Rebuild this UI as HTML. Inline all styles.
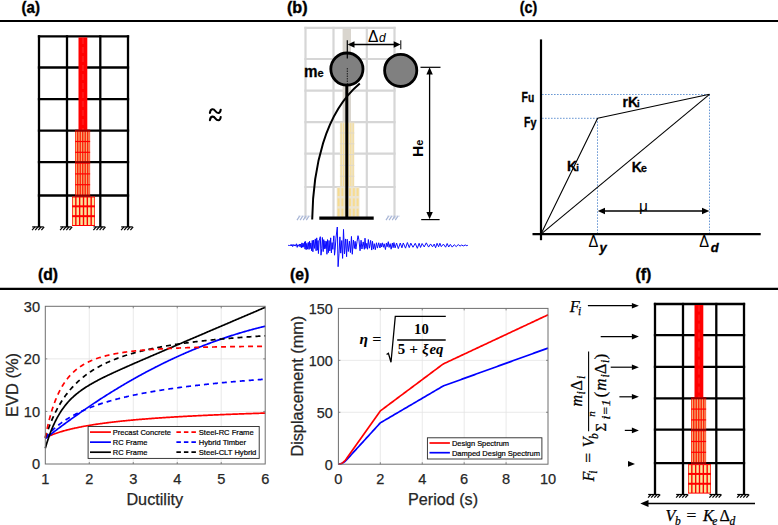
<!DOCTYPE html>
<html><head><meta charset="utf-8"><style>
html,body{margin:0;padding:0;background:#fff;width:778px;height:525px;overflow:hidden;}
svg{display:block;}
</style></head><body>
<svg width="778" height="525" viewBox="0 0 778 525">
<rect width="778" height="525" fill="#fff"/>
<line x1="0.00" y1="21.00" x2="778.00" y2="21.00" stroke="#000" stroke-width="2.2" />
<line x1="0.00" y1="288.90" x2="778.00" y2="288.90" stroke="#000" stroke-width="2.2" />
<text x="21.6" y="12.8" font-family='"Liberation Sans", sans-serif' font-size="16.5" font-weight="bold" font-style="normal" text-anchor="start" fill="#000" textLength="18.4" lengthAdjust="spacingAndGlyphs" stroke="#000" stroke-width="0.4">(a)</text>
<text x="287" y="12.8" font-family='"Liberation Sans", sans-serif' font-size="16.5" font-weight="bold" font-style="normal" text-anchor="start" fill="#000" textLength="20.6" lengthAdjust="spacingAndGlyphs" stroke="#000" stroke-width="0.4">(b)</text>
<text x="519.8" y="12.8" font-family='"Liberation Sans", sans-serif' font-size="16.5" font-weight="bold" font-style="normal" text-anchor="start" fill="#000" textLength="17.4" lengthAdjust="spacingAndGlyphs" stroke="#000" stroke-width="0.4">(c)</text>
<text x="38.1" y="280.4" font-family='"Liberation Sans", sans-serif' font-size="16.5" font-weight="bold" font-style="normal" text-anchor="start" fill="#000" textLength="20.0" lengthAdjust="spacingAndGlyphs" stroke="#000" stroke-width="0.4">(d)</text>
<text x="290.0" y="280.4" font-family='"Liberation Sans", sans-serif' font-size="16.5" font-weight="bold" font-style="normal" text-anchor="start" fill="#000" textLength="19.2" lengthAdjust="spacingAndGlyphs" stroke="#000" stroke-width="0.4">(e)</text>
<text x="635.4" y="280.4" font-family='"Liberation Sans", sans-serif' font-size="16.5" font-weight="bold" font-style="normal" text-anchor="start" fill="#000" textLength="16.0" lengthAdjust="spacingAndGlyphs" stroke="#000" stroke-width="0.4">(f)</text>
<g transform="translate(0,0)">
<line x1="39.0" y1="36.4" x2="39.0" y2="226.0" stroke="#000" stroke-width="2.3" stroke-linecap="square"/>
<line x1="67.0" y1="36.4" x2="67.0" y2="226.0" stroke="#000" stroke-width="2.3" stroke-linecap="square"/>
<line x1="100.3" y1="36.4" x2="100.3" y2="226.0" stroke="#000" stroke-width="2.3" stroke-linecap="square"/>
<line x1="128.0" y1="36.4" x2="128.0" y2="226.0" stroke="#000" stroke-width="2.3" stroke-linecap="square"/>
<line x1="39.0" y1="36.4" x2="128.0" y2="36.4" stroke="#000" stroke-width="2.3" stroke-linecap="square"/>
<line x1="39.0" y1="67.5" x2="128.0" y2="67.5" stroke="#000" stroke-width="2.3" stroke-linecap="square"/>
<line x1="39.0" y1="99.2" x2="128.0" y2="99.2" stroke="#000" stroke-width="2.3" stroke-linecap="square"/>
<line x1="39.0" y1="130.7" x2="128.0" y2="130.7" stroke="#000" stroke-width="2.3" stroke-linecap="square"/>
<line x1="39.0" y1="162.1" x2="128.0" y2="162.1" stroke="#000" stroke-width="2.3" stroke-linecap="square"/>
<line x1="39.0" y1="195.5" x2="128.0" y2="195.5" stroke="#000" stroke-width="2.3" stroke-linecap="square"/>
<rect x="78.5" y="37.4" width="8.8" height="93.29999999999998" fill="#ff0000"/>
<line x1="82.4" y1="38" x2="82.4" y2="130.7" stroke="#ff5050" stroke-width="0.3" stroke-dasharray="6 3"/>
<line x1="83.4" y1="38" x2="83.4" y2="130.7" stroke="#ff5050" stroke-width="0.3" stroke-dasharray="6 3"/>
<rect x="75.1" y="130.7" width="15.0" height="64.80000000000001" fill="#ff1a00"/>
<rect x="75.85" y="130.7" width="1.25" height="64.80000000000001" fill="#f5aa74"/>
<rect x="78.35" y="130.7" width="1.25" height="64.80000000000001" fill="#f5aa74"/>
<rect x="80.85" y="130.7" width="1.25" height="64.80000000000001" fill="#f5aa74"/>
<rect x="83.35" y="130.7" width="1.25" height="64.80000000000001" fill="#f5aa74"/>
<rect x="85.85" y="130.7" width="1.25" height="64.80000000000001" fill="#f5aa74"/>
<rect x="88.35" y="130.7" width="1.25" height="64.80000000000001" fill="#f5aa74"/>
<rect x="75.1" y="130.10" width="15.0" height="1.2" fill="#ff0000"/>
<rect x="75.1" y="140.90" width="15.0" height="1.2" fill="#ff0000"/>
<rect x="75.1" y="151.70" width="15.0" height="1.2" fill="#ff0000"/>
<rect x="75.1" y="162.50" width="15.0" height="1.2" fill="#ff0000"/>
<rect x="75.1" y="173.30" width="15.0" height="1.2" fill="#ff0000"/>
<rect x="75.1" y="184.10" width="15.0" height="1.2" fill="#ff0000"/>
<rect x="75.1" y="194.90" width="15.0" height="1.2" fill="#ff0000"/>
<rect x="72.0" y="196.5" width="23.0" height="29.5" fill="#ff0000"/>
<rect x="72.70" y="197.50" width="2.43" height="7.83" fill="#fbe39a"/>
<rect x="72.70" y="207.33" width="2.43" height="7.83" fill="#fbe39a"/>
<rect x="72.70" y="217.17" width="2.43" height="7.83" fill="#fbe39a"/>
<rect x="76.53" y="197.50" width="2.43" height="7.83" fill="#fbe39a"/>
<rect x="76.53" y="207.33" width="2.43" height="7.83" fill="#fbe39a"/>
<rect x="76.53" y="217.17" width="2.43" height="7.83" fill="#fbe39a"/>
<rect x="80.37" y="197.50" width="2.43" height="7.83" fill="#fbe39a"/>
<rect x="80.37" y="207.33" width="2.43" height="7.83" fill="#fbe39a"/>
<rect x="80.37" y="217.17" width="2.43" height="7.83" fill="#fbe39a"/>
<rect x="84.20" y="197.50" width="2.43" height="7.83" fill="#fbe39a"/>
<rect x="84.20" y="207.33" width="2.43" height="7.83" fill="#fbe39a"/>
<rect x="84.20" y="217.17" width="2.43" height="7.83" fill="#fbe39a"/>
<rect x="88.03" y="197.50" width="2.43" height="7.83" fill="#fbe39a"/>
<rect x="88.03" y="207.33" width="2.43" height="7.83" fill="#fbe39a"/>
<rect x="88.03" y="217.17" width="2.43" height="7.83" fill="#fbe39a"/>
<rect x="91.87" y="197.50" width="2.43" height="7.83" fill="#fbe39a"/>
<rect x="91.87" y="207.33" width="2.43" height="7.83" fill="#fbe39a"/>
<rect x="91.87" y="217.17" width="2.43" height="7.83" fill="#fbe39a"/>
<line x1="75.1" y1="130.7" x2="90.1" y2="130.7" stroke="#900000" stroke-width="2.0"/>
<line x1="75.1" y1="162.1" x2="90.1" y2="162.1" stroke="#900000" stroke-width="2.0"/>
<line x1="75.1" y1="195.5" x2="90.1" y2="195.5" stroke="#900000" stroke-width="2.0"/>
<line x1="32.2" y1="226.9" x2="43.6" y2="226.9" stroke="#000" stroke-width="1.2"/>
<line x1="34.90" y1="226.9" x2="32.10" y2="230.1" stroke="#000" stroke-width="1.2"/>
<line x1="38.00" y1="226.9" x2="35.20" y2="230.1" stroke="#000" stroke-width="1.2"/>
<line x1="41.10" y1="226.9" x2="38.30" y2="230.1" stroke="#000" stroke-width="1.2"/>
<line x1="44.20" y1="226.9" x2="41.40" y2="230.1" stroke="#000" stroke-width="1.2"/>
<line x1="60.2" y1="226.9" x2="71.6" y2="226.9" stroke="#000" stroke-width="1.2"/>
<line x1="62.90" y1="226.9" x2="60.10" y2="230.1" stroke="#000" stroke-width="1.2"/>
<line x1="66.00" y1="226.9" x2="63.20" y2="230.1" stroke="#000" stroke-width="1.2"/>
<line x1="69.10" y1="226.9" x2="66.30" y2="230.1" stroke="#000" stroke-width="1.2"/>
<line x1="72.20" y1="226.9" x2="69.40" y2="230.1" stroke="#000" stroke-width="1.2"/>
<line x1="93.5" y1="226.9" x2="104.89999999999999" y2="226.9" stroke="#000" stroke-width="1.2"/>
<line x1="96.20" y1="226.9" x2="93.40" y2="230.1" stroke="#000" stroke-width="1.2"/>
<line x1="99.30" y1="226.9" x2="96.50" y2="230.1" stroke="#000" stroke-width="1.2"/>
<line x1="102.40" y1="226.9" x2="99.60" y2="230.1" stroke="#000" stroke-width="1.2"/>
<line x1="105.50" y1="226.9" x2="102.70" y2="230.1" stroke="#000" stroke-width="1.2"/>
<line x1="121.2" y1="226.9" x2="132.6" y2="226.9" stroke="#000" stroke-width="1.2"/>
<line x1="123.90" y1="226.9" x2="121.10" y2="230.1" stroke="#000" stroke-width="1.2"/>
<line x1="127.00" y1="226.9" x2="124.20" y2="230.1" stroke="#000" stroke-width="1.2"/>
<line x1="130.10" y1="226.9" x2="127.30" y2="230.1" stroke="#000" stroke-width="1.2"/>
<line x1="133.20" y1="226.9" x2="130.40" y2="230.1" stroke="#000" stroke-width="1.2"/>
</g>
<g transform="translate(616,267.6)">
<line x1="39.0" y1="36.4" x2="39.0" y2="226.0" stroke="#000" stroke-width="2.3" stroke-linecap="square"/>
<line x1="67.0" y1="36.4" x2="67.0" y2="226.0" stroke="#000" stroke-width="2.3" stroke-linecap="square"/>
<line x1="100.3" y1="36.4" x2="100.3" y2="226.0" stroke="#000" stroke-width="2.3" stroke-linecap="square"/>
<line x1="128.0" y1="36.4" x2="128.0" y2="226.0" stroke="#000" stroke-width="2.3" stroke-linecap="square"/>
<line x1="39.0" y1="36.4" x2="128.0" y2="36.4" stroke="#000" stroke-width="2.3" stroke-linecap="square"/>
<line x1="39.0" y1="67.5" x2="128.0" y2="67.5" stroke="#000" stroke-width="2.3" stroke-linecap="square"/>
<line x1="39.0" y1="99.2" x2="128.0" y2="99.2" stroke="#000" stroke-width="2.3" stroke-linecap="square"/>
<line x1="39.0" y1="130.7" x2="128.0" y2="130.7" stroke="#000" stroke-width="2.3" stroke-linecap="square"/>
<line x1="39.0" y1="162.1" x2="128.0" y2="162.1" stroke="#000" stroke-width="2.3" stroke-linecap="square"/>
<line x1="39.0" y1="195.5" x2="128.0" y2="195.5" stroke="#000" stroke-width="2.3" stroke-linecap="square"/>
<rect x="78.5" y="37.4" width="8.8" height="93.29999999999998" fill="#ff0000"/>
<line x1="82.4" y1="38" x2="82.4" y2="130.7" stroke="#ff5050" stroke-width="0.3" stroke-dasharray="6 3"/>
<line x1="83.4" y1="38" x2="83.4" y2="130.7" stroke="#ff5050" stroke-width="0.3" stroke-dasharray="6 3"/>
<rect x="75.1" y="130.7" width="15.0" height="64.80000000000001" fill="#ff1a00"/>
<rect x="75.85" y="130.7" width="1.25" height="64.80000000000001" fill="#f5aa74"/>
<rect x="78.35" y="130.7" width="1.25" height="64.80000000000001" fill="#f5aa74"/>
<rect x="80.85" y="130.7" width="1.25" height="64.80000000000001" fill="#f5aa74"/>
<rect x="83.35" y="130.7" width="1.25" height="64.80000000000001" fill="#f5aa74"/>
<rect x="85.85" y="130.7" width="1.25" height="64.80000000000001" fill="#f5aa74"/>
<rect x="88.35" y="130.7" width="1.25" height="64.80000000000001" fill="#f5aa74"/>
<rect x="75.1" y="130.10" width="15.0" height="1.2" fill="#ff0000"/>
<rect x="75.1" y="140.90" width="15.0" height="1.2" fill="#ff0000"/>
<rect x="75.1" y="151.70" width="15.0" height="1.2" fill="#ff0000"/>
<rect x="75.1" y="162.50" width="15.0" height="1.2" fill="#ff0000"/>
<rect x="75.1" y="173.30" width="15.0" height="1.2" fill="#ff0000"/>
<rect x="75.1" y="184.10" width="15.0" height="1.2" fill="#ff0000"/>
<rect x="75.1" y="194.90" width="15.0" height="1.2" fill="#ff0000"/>
<rect x="72.0" y="196.5" width="23.0" height="29.5" fill="#ff0000"/>
<rect x="72.70" y="197.50" width="2.43" height="7.83" fill="#fbe39a"/>
<rect x="72.70" y="207.33" width="2.43" height="7.83" fill="#fbe39a"/>
<rect x="72.70" y="217.17" width="2.43" height="7.83" fill="#fbe39a"/>
<rect x="76.53" y="197.50" width="2.43" height="7.83" fill="#fbe39a"/>
<rect x="76.53" y="207.33" width="2.43" height="7.83" fill="#fbe39a"/>
<rect x="76.53" y="217.17" width="2.43" height="7.83" fill="#fbe39a"/>
<rect x="80.37" y="197.50" width="2.43" height="7.83" fill="#fbe39a"/>
<rect x="80.37" y="207.33" width="2.43" height="7.83" fill="#fbe39a"/>
<rect x="80.37" y="217.17" width="2.43" height="7.83" fill="#fbe39a"/>
<rect x="84.20" y="197.50" width="2.43" height="7.83" fill="#fbe39a"/>
<rect x="84.20" y="207.33" width="2.43" height="7.83" fill="#fbe39a"/>
<rect x="84.20" y="217.17" width="2.43" height="7.83" fill="#fbe39a"/>
<rect x="88.03" y="197.50" width="2.43" height="7.83" fill="#fbe39a"/>
<rect x="88.03" y="207.33" width="2.43" height="7.83" fill="#fbe39a"/>
<rect x="88.03" y="217.17" width="2.43" height="7.83" fill="#fbe39a"/>
<rect x="91.87" y="197.50" width="2.43" height="7.83" fill="#fbe39a"/>
<rect x="91.87" y="207.33" width="2.43" height="7.83" fill="#fbe39a"/>
<rect x="91.87" y="217.17" width="2.43" height="7.83" fill="#fbe39a"/>
<line x1="75.1" y1="130.7" x2="90.1" y2="130.7" stroke="#900000" stroke-width="2.0"/>
<line x1="75.1" y1="162.1" x2="90.1" y2="162.1" stroke="#900000" stroke-width="2.0"/>
<line x1="75.1" y1="195.5" x2="90.1" y2="195.5" stroke="#900000" stroke-width="2.0"/>
<line x1="32.2" y1="226.9" x2="43.6" y2="226.9" stroke="#000" stroke-width="1.2"/>
<line x1="34.90" y1="226.9" x2="32.10" y2="230.1" stroke="#000" stroke-width="1.2"/>
<line x1="38.00" y1="226.9" x2="35.20" y2="230.1" stroke="#000" stroke-width="1.2"/>
<line x1="41.10" y1="226.9" x2="38.30" y2="230.1" stroke="#000" stroke-width="1.2"/>
<line x1="44.20" y1="226.9" x2="41.40" y2="230.1" stroke="#000" stroke-width="1.2"/>
<line x1="60.2" y1="226.9" x2="71.6" y2="226.9" stroke="#000" stroke-width="1.2"/>
<line x1="62.90" y1="226.9" x2="60.10" y2="230.1" stroke="#000" stroke-width="1.2"/>
<line x1="66.00" y1="226.9" x2="63.20" y2="230.1" stroke="#000" stroke-width="1.2"/>
<line x1="69.10" y1="226.9" x2="66.30" y2="230.1" stroke="#000" stroke-width="1.2"/>
<line x1="72.20" y1="226.9" x2="69.40" y2="230.1" stroke="#000" stroke-width="1.2"/>
<line x1="93.5" y1="226.9" x2="104.89999999999999" y2="226.9" stroke="#000" stroke-width="1.2"/>
<line x1="96.20" y1="226.9" x2="93.40" y2="230.1" stroke="#000" stroke-width="1.2"/>
<line x1="99.30" y1="226.9" x2="96.50" y2="230.1" stroke="#000" stroke-width="1.2"/>
<line x1="102.40" y1="226.9" x2="99.60" y2="230.1" stroke="#000" stroke-width="1.2"/>
<line x1="105.50" y1="226.9" x2="102.70" y2="230.1" stroke="#000" stroke-width="1.2"/>
<line x1="121.2" y1="226.9" x2="132.6" y2="226.9" stroke="#000" stroke-width="1.2"/>
<line x1="123.90" y1="226.9" x2="121.10" y2="230.1" stroke="#000" stroke-width="1.2"/>
<line x1="127.00" y1="226.9" x2="124.20" y2="230.1" stroke="#000" stroke-width="1.2"/>
<line x1="130.10" y1="226.9" x2="127.30" y2="230.1" stroke="#000" stroke-width="1.2"/>
<line x1="133.20" y1="226.9" x2="130.40" y2="230.1" stroke="#000" stroke-width="1.2"/>
</g>
<path d="M 209.9 112.9 C 210.6 108.3, 213.6 108.60000000000001, 215.3 111.0 S 220.2 114.3, 220.7 109.7" fill="none" stroke="#000" stroke-width="2.1" stroke-linecap="round"/>
<path d="M 209.9 120.2 C 210.6 115.6, 213.6 115.9, 215.3 118.3 S 220.2 121.6, 220.7 117.0" fill="none" stroke="#000" stroke-width="2.1" stroke-linecap="round"/>
<g transform="translate(266.5,-8.5)">
<line x1="39.0" y1="36.4" x2="39.0" y2="226.0" stroke="#d6d6d6" stroke-width="2.2" stroke-linecap="square"/>
<line x1="67.0" y1="36.4" x2="67.0" y2="226.0" stroke="#d6d6d6" stroke-width="2.2" stroke-linecap="square"/>
<line x1="100.3" y1="36.4" x2="100.3" y2="226.0" stroke="#d6d6d6" stroke-width="2.2" stroke-linecap="square"/>
<line x1="128.0" y1="36.4" x2="128.0" y2="226.0" stroke="#d6d6d6" stroke-width="2.2" stroke-linecap="square"/>
<line x1="39.0" y1="36.4" x2="128.0" y2="36.4" stroke="#d6d6d6" stroke-width="2.2" stroke-linecap="square"/>
<line x1="39.0" y1="67.5" x2="128.0" y2="67.5" stroke="#d6d6d6" stroke-width="2.2" stroke-linecap="square"/>
<line x1="39.0" y1="99.2" x2="128.0" y2="99.2" stroke="#d6d6d6" stroke-width="2.2" stroke-linecap="square"/>
<line x1="39.0" y1="130.7" x2="128.0" y2="130.7" stroke="#d6d6d6" stroke-width="2.2" stroke-linecap="square"/>
<line x1="39.0" y1="162.1" x2="128.0" y2="162.1" stroke="#d6d6d6" stroke-width="2.2" stroke-linecap="square"/>
<line x1="39.0" y1="195.5" x2="128.0" y2="195.5" stroke="#d6d6d6" stroke-width="2.2" stroke-linecap="square"/>
<rect x="76.10000000000002" y="37.4" width="8.4" height="93.29999999999998" fill="#d9d5ce"/>
<rect x="73.39999999999998" y="130.7" width="14.4" height="64.80000000000001" fill="#ece4d0"/>
<rect x="74.10" y="131.7" width="1.1" height="62.80000000000001" fill="#f5dc98"/>
<rect x="76.50" y="131.7" width="1.1" height="62.80000000000001" fill="#f5dc98"/>
<rect x="78.90" y="131.7" width="1.1" height="62.80000000000001" fill="#f5dc98"/>
<rect x="81.30" y="131.7" width="1.1" height="62.80000000000001" fill="#f5dc98"/>
<rect x="83.70" y="131.7" width="1.1" height="62.80000000000001" fill="#f5dc98"/>
<rect x="86.10" y="131.7" width="1.1" height="62.80000000000001" fill="#f5dc98"/>
<rect x="73.39999999999998" y="130.20" width="14.4" height="1.0" fill="#e0d8c8"/>
<rect x="73.39999999999998" y="141.00" width="14.4" height="1.0" fill="#e0d8c8"/>
<rect x="73.39999999999998" y="151.80" width="14.4" height="1.0" fill="#e0d8c8"/>
<rect x="73.39999999999998" y="162.60" width="14.4" height="1.0" fill="#e0d8c8"/>
<rect x="73.39999999999998" y="173.40" width="14.4" height="1.0" fill="#e0d8c8"/>
<rect x="73.39999999999998" y="184.20" width="14.4" height="1.0" fill="#e0d8c8"/>
<rect x="73.39999999999998" y="195.00" width="14.4" height="1.0" fill="#e0d8c8"/>
<rect x="70.19999999999999" y="195.5" width="22.8" height="30.5" fill="#ece4d0"/>
<rect x="71.10" y="196.70" width="2.0" height="7.8" fill="#f7dc90"/>
<rect x="71.10" y="206.90" width="2.0" height="7.8" fill="#f7dc90"/>
<rect x="71.10" y="217.10" width="2.0" height="7.8" fill="#f7dc90"/>
<rect x="74.90" y="196.70" width="2.0" height="7.8" fill="#f7dc90"/>
<rect x="74.90" y="206.90" width="2.0" height="7.8" fill="#f7dc90"/>
<rect x="74.90" y="217.10" width="2.0" height="7.8" fill="#f7dc90"/>
<rect x="78.70" y="196.70" width="2.0" height="7.8" fill="#f7dc90"/>
<rect x="78.70" y="206.90" width="2.0" height="7.8" fill="#f7dc90"/>
<rect x="78.70" y="217.10" width="2.0" height="7.8" fill="#f7dc90"/>
<rect x="82.50" y="196.70" width="2.0" height="7.8" fill="#f7dc90"/>
<rect x="82.50" y="206.90" width="2.0" height="7.8" fill="#f7dc90"/>
<rect x="82.50" y="217.10" width="2.0" height="7.8" fill="#f7dc90"/>
<rect x="86.30" y="196.70" width="2.0" height="7.8" fill="#f7dc90"/>
<rect x="86.30" y="206.90" width="2.0" height="7.8" fill="#f7dc90"/>
<rect x="86.30" y="217.10" width="2.0" height="7.8" fill="#f7dc90"/>
<rect x="90.10" y="196.70" width="2.0" height="7.8" fill="#f7dc90"/>
<rect x="90.10" y="206.90" width="2.0" height="7.8" fill="#f7dc90"/>
<rect x="90.10" y="217.10" width="2.0" height="7.8" fill="#f7dc90"/>
<line x1="33.30" y1="224.4" x2="30.50" y2="228.6" stroke="#a4b2d4" stroke-width="1.1"/>
<line x1="36.40" y1="224.4" x2="33.60" y2="228.6" stroke="#a4b2d4" stroke-width="1.1"/>
<line x1="39.50" y1="224.4" x2="36.70" y2="228.6" stroke="#a4b2d4" stroke-width="1.1"/>
<line x1="42.60" y1="224.4" x2="39.80" y2="228.6" stroke="#a4b2d4" stroke-width="1.1"/>
<line x1="31.5" y1="224.6" x2="44.5" y2="224.6" stroke="#c4cde2" stroke-width="0.6"/>
<line x1="122.30" y1="224.4" x2="119.50" y2="228.6" stroke="#a4b2d4" stroke-width="1.1"/>
<line x1="125.40" y1="224.4" x2="122.60" y2="228.6" stroke="#a4b2d4" stroke-width="1.1"/>
<line x1="128.50" y1="224.4" x2="125.70" y2="228.6" stroke="#a4b2d4" stroke-width="1.1"/>
<line x1="131.60" y1="224.4" x2="128.80" y2="228.6" stroke="#a4b2d4" stroke-width="1.1"/>
<line x1="120.5" y1="224.6" x2="133.5" y2="224.6" stroke="#c4cde2" stroke-width="0.6"/>
</g>
<line x1="346.80" y1="86.00" x2="346.80" y2="218.20" stroke="#000" stroke-width="3" />
<line x1="319.30" y1="218.20" x2="373.70" y2="218.20" stroke="#000" stroke-width="3.2" />
<path d="M 312.2 219.6 C 313 168, 324.5 113, 359.8 83.6" fill="none" stroke="#000" stroke-width="2"/>
<circle cx="346.9" cy="69.1" r="16.1" fill="#808080" stroke="#000" stroke-width="2.8"/>
<circle cx="400.7" cy="70.4" r="16.1" fill="#808080" stroke="#000" stroke-width="2.8"/>
<line x1="347.30" y1="40.30" x2="347.30" y2="58.60" stroke="#000" stroke-width="1.2" />
<line x1="347.3" y1="68" x2="347.3" y2="86" stroke="#000" stroke-width="0.8" stroke-dasharray="1.5 1"/>
<line x1="400.80" y1="40.30" x2="400.80" y2="49.30" stroke="#000" stroke-width="1" />
<line x1="351.00" y1="44.50" x2="397.00" y2="44.50" stroke="#000" stroke-width="1.4" />
<polygon points="347.6,44.5 354.5,41.3 354.5,47.7" fill="#000"/>
<polygon points="400.6,44.5 393.7,41.3 393.7,47.7" fill="#000"/>
<text x="368.0" y="41.7" font-family='"Liberation Sans", sans-serif' font-size="17" font-weight="normal" font-style="normal" text-anchor="start" fill="#000" textLength="10.4" lengthAdjust="spacingAndGlyphs" >&#916;</text>
<text x="379.0" y="42.2" font-family='"Liberation Sans", sans-serif' font-size="12" font-weight="normal" font-style="italic" text-anchor="start" fill="#000" >d</text>
<text x="304" y="76.6" font-family='"Liberation Sans", sans-serif' font-size="16" font-weight="bold" font-style="normal" text-anchor="start" fill="#000" textLength="13.5" lengthAdjust="spacingAndGlyphs"  stroke="#000" stroke-width="0.3">m</text>
<text x="317.6" y="76.8" font-family='"Liberation Sans", sans-serif' font-size="11" font-weight="bold" font-style="normal" text-anchor="start" fill="#000"  stroke="#000" stroke-width="0.3">e</text>
<line x1="429.60" y1="72.00" x2="429.60" y2="214.00" stroke="#000" stroke-width="1.3" />
<polygon points="429.6,67.3 426.4,74.5 432.8,74.5" fill="#000"/>
<polygon points="429.6,219.3 426.4,212 432.8,212" fill="#000"/>
<line x1="420.50" y1="67.30" x2="440.50" y2="67.30" stroke="#000" stroke-width="1.2" />
<line x1="421.20" y1="219.60" x2="439.60" y2="219.60" stroke="#000" stroke-width="1.2" />
<text transform="translate(423.2,157) rotate(-90)" font-family='"Liberation Sans", sans-serif' font-size="15.5" font-weight="bold"><tspan>H</tspan><tspan font-size="11">e</tspan></text>
<polyline points="288.20,245.12 289.01,245.79 289.69,245.10 290.17,245.76 290.80,244.61 291.27,245.95 292.02,244.42 292.66,246.58 293.52,244.62 294.14,246.01 294.90,244.71 295.60,246.10 296.44,243.79 297.20,247.36 297.75,244.84 298.59,246.18 299.36,244.05 300.04,246.82 300.58,244.11 301.39,247.80 301.91,242.86 302.56,247.21 303.12,243.25 303.93,247.21 304.61,241.80 305.06,249.08 305.55,241.48 306.17,249.66 306.80,243.38 307.50,249.17 308.28,242.39 309.04,249.40 309.59,241.26 310.09,248.64 310.82,242.96 311.63,250.75 312.26,240.44 312.88,251.77 313.60,240.02 314.50,248.39 315.31,238.91 316.09,250.76 316.72,237.86 317.38,250.21 317.97,240.57 318.43,253.57 319.16,240.89 320.30,236.70 321.00,255.20 321.74,248.68 322.37,237.50 323.21,251.60 323.72,239.62 324.29,248.93 324.99,240.96 325.83,248.63 326.48,241.47 326.93,254.28 327.53,239.60 328.38,252.63 329.04,240.50 329.87,250.92 330.68,237.84 331.40,252.87 332.07,242.63 332.84,249.32 333.31,241.31 333.90,235.80 334.50,255.20 335.04,250.79 335.95,238.13 337.30,227.00 338.10,266.70 339.00,253.83 339.90,236.86 340.74,253.17 341.75,240.55 342.60,258.40 343.50,229.40 344.49,253.89 345.48,238.95 346.60,256.70 347.18,239.22 348.32,251.51 349.36,241.11 350.43,252.58 351.46,236.45 352.27,254.27 353.42,240.02 354.30,248.46 355.15,241.32 355.86,249.15 357.08,241.37 358.00,235.70 358.93,239.92 360.04,250.74 361.07,240.24 361.94,249.00 363.19,241.90 364.33,249.31 365.00,238.20 365.90,248.37 366.82,243.27 367.52,249.24 368.35,239.52 369.41,248.20 370.64,240.40 371.71,250.07 372.47,241.29 373.41,249.13 374.30,243.69 375.31,249.70 376.46,242.80 377.45,248.12 378.72,242.78 379.95,248.00 380.87,243.30 381.61,247.02 382.45,242.84 383.47,247.26 384.19,243.82 385.44,249.54 386.36,243.08 387.13,246.78 388.31,241.69 389.05,247.41 390.16,243.65 391.15,249.20 392.38,242.99 393.13,247.67 393.94,242.57 395.08,247.90 396.57,243.04 398.30,248.64 400.28,243.01 401.92,247.83 403.28,242.97 405.53,248.15 407.39,242.56 409.25,247.61 410.81,243.13 413.00,247.26 415.26,243.27 417.34,248.30 419.12,243.29 420.55,247.44 422.10,243.51 424.21,246.91 426.30,242.84 428.60,247.09 430.58,243.95 432.53,246.82 434.21,244.05 435.58,247.76 437.06,243.29 438.60,246.76 439.91,243.24 441.27,246.67 443.39,244.12 445.62,247.20 447.18,243.51 448.69,246.99 450.35,244.37 452.23,247.10 454.26,244.72 456.16,246.57 458.27,244.59 460.06,246.12 461.62,245.06 463.43,245.90 465.32,245.00 466.87,245.74 467.80,245.30" fill="none" stroke="#0a0aff" stroke-width="1.0" stroke-linejoin="round" />
<line x1="541.00" y1="39.40" x2="541.00" y2="240.20" stroke="#000" stroke-width="2.2" />
<line x1="532.50" y1="234.10" x2="760.70" y2="234.10" stroke="#000" stroke-width="2.2" />
<line x1="542.00" y1="94.50" x2="709.50" y2="94.50" stroke="#6a98d4" stroke-width="1" stroke-dasharray="1.6 1.4"/>
<line x1="542.00" y1="118.30" x2="597.50" y2="118.30" stroke="#6a98d4" stroke-width="1" stroke-dasharray="1.6 1.4"/>
<line x1="597.50" y1="118.30" x2="597.50" y2="233.00" stroke="#6a98d4" stroke-width="1" stroke-dasharray="1.6 1.4"/>
<line x1="709.50" y1="94.50" x2="709.50" y2="233.00" stroke="#6a98d4" stroke-width="1" stroke-dasharray="1.6 1.4"/>
<polyline points="541.00,234.10 597.60,118.30 709.50,94.30" fill="none" stroke="#000" stroke-width="1.1" stroke-linejoin="round" />
<line x1="541.00" y1="234.10" x2="709.50" y2="94.30" stroke="#000" stroke-width="1.1" />
<line x1="602.00" y1="211.00" x2="705.00" y2="211.00" stroke="#000" stroke-width="1.6" />
<polygon points="597.8,211 605,207.8 605,214.2" fill="#000"/>
<polygon points="709.3,211 702,207.8 702,214.2" fill="#000"/>
<text x="643.4" y="211.2" font-family='"Liberation Sans", sans-serif' font-size="15.5" font-weight="normal" font-style="normal" text-anchor="middle" fill="#000" >&#956;</text>
<text x="521.6" y="101.7" font-family='"Liberation Sans", sans-serif' font-size="14.5" font-weight="bold" font-style="normal" text-anchor="start" fill="#000" textLength="6.4" lengthAdjust="spacingAndGlyphs"  stroke="#000" stroke-width="0.3">F</text>
<text x="528.0" y="101.7" font-family='"Liberation Sans", sans-serif' font-size="12" font-weight="bold" font-style="normal" text-anchor="start" fill="#000" textLength="6.3" lengthAdjust="spacingAndGlyphs"  stroke="#000" stroke-width="0.3">u</text>
<text x="524.0" y="126.9" font-family='"Liberation Sans", sans-serif' font-size="14.5" font-weight="bold" font-style="normal" text-anchor="start" fill="#000" textLength="6.4" lengthAdjust="spacingAndGlyphs"  stroke="#000" stroke-width="0.3">F</text>
<text x="530.4" y="126.9" font-family='"Liberation Sans", sans-serif' font-size="12" font-weight="bold" font-style="normal" text-anchor="start" fill="#000" textLength="6.0" lengthAdjust="spacingAndGlyphs"  stroke="#000" stroke-width="0.3">y</text>
<text x="622.6" y="107" font-family='"Liberation Sans", sans-serif' font-size="14" font-weight="bold" font-style="normal" text-anchor="start" fill="#000"  stroke="#000" stroke-width="0.3">rK</text>
<text x="637.0" y="107.3" font-family='"Liberation Sans", sans-serif' font-size="9.5" font-weight="bold" font-style="normal" text-anchor="start" fill="#000"  stroke="#000" stroke-width="0.3">i</text>
<text x="567.0" y="170.8" font-family='"Liberation Sans", sans-serif' font-size="14" font-weight="bold" font-style="normal" text-anchor="start" fill="#000"  stroke="#000" stroke-width="0.3">K</text>
<text x="576.2" y="171" font-family='"Liberation Sans", sans-serif' font-size="9.5" font-weight="bold" font-style="normal" text-anchor="start" fill="#000"  stroke="#000" stroke-width="0.3">i</text>
<text x="631.8" y="171.7" font-family='"Liberation Sans", sans-serif' font-size="14" font-weight="bold" font-style="normal" text-anchor="start" fill="#000"  stroke="#000" stroke-width="0.3">K</text>
<text x="641.0" y="171.9" font-family='"Liberation Sans", sans-serif' font-size="10.5" font-weight="bold" font-style="normal" text-anchor="start" fill="#000"  stroke="#000" stroke-width="0.3">e</text>
<text x="588.4" y="247.0" font-family='"Liberation Sans", sans-serif' font-size="16" font-weight="normal" font-style="normal" text-anchor="start" fill="#000" textLength="9.8" lengthAdjust="spacingAndGlyphs" >&#916;</text>
<text x="599.6" y="252.2" font-family='"Liberation Sans", sans-serif' font-size="13" font-weight="bold" font-style="italic" text-anchor="start" fill="#000"  stroke="#000" stroke-width="0.3">y</text>
<text x="699.3" y="247.0" font-family='"Liberation Sans", sans-serif' font-size="16" font-weight="normal" font-style="normal" text-anchor="start" fill="#000" textLength="9.8" lengthAdjust="spacingAndGlyphs" >&#916;</text>
<text x="710.8" y="252.2" font-family='"Liberation Sans", sans-serif' font-size="13" font-weight="bold" font-style="italic" text-anchor="start" fill="#000"  stroke="#000" stroke-width="0.3">d</text>
<line x1="89.28" y1="306.30" x2="89.28" y2="464.00" stroke="#e3e3e3" stroke-width="0.8" />
<line x1="133.26" y1="306.30" x2="133.26" y2="464.00" stroke="#e3e3e3" stroke-width="0.8" />
<line x1="177.24" y1="306.30" x2="177.24" y2="464.00" stroke="#e3e3e3" stroke-width="0.8" />
<line x1="221.22" y1="306.30" x2="221.22" y2="464.00" stroke="#e3e3e3" stroke-width="0.8" />
<line x1="45.30" y1="411.43" x2="265.20" y2="411.43" stroke="#e3e3e3" stroke-width="0.8" />
<line x1="45.30" y1="358.87" x2="265.20" y2="358.87" stroke="#e3e3e3" stroke-width="0.8" />
<polyline points="45.30,437.72 46.04,437.37 46.77,437.02 47.51,436.69 48.24,436.36 48.98,436.05 49.71,435.74 50.45,435.43 51.18,435.14 51.92,434.85 52.65,434.56 53.39,434.29 54.13,434.01 54.86,433.75 55.60,433.49 56.33,433.23 57.07,432.98 57.80,432.74 58.54,432.50 59.27,432.26 60.01,432.03 60.74,431.81 61.48,431.58 62.22,431.37 62.95,431.15 63.69,430.94 64.42,430.73 65.16,430.53 65.89,430.33 66.63,430.14 67.36,429.94 68.10,429.75 68.83,429.57 69.57,429.39 70.31,429.20 71.04,429.03 71.78,428.85 72.51,428.68 73.25,428.51 73.98,428.35 74.72,428.18 75.45,428.02 76.19,427.86 76.92,427.71 77.66,427.55 78.40,427.40 79.13,427.25 79.87,427.10 80.60,426.96 81.34,426.81 82.07,426.67 82.81,426.53 83.54,426.39 84.28,426.26 85.01,426.13 85.75,425.99 86.49,425.86 87.22,425.73 87.96,425.61 88.69,425.48 89.43,425.36 90.16,425.24 90.90,425.11 91.63,425.00 92.37,424.88 93.10,424.76 93.84,424.65 94.58,424.53 95.31,424.42 96.05,424.31 96.78,424.20 97.52,424.09 98.25,423.99 98.99,423.88 99.72,423.78 100.46,423.67 101.19,423.57 101.93,423.47 102.67,423.37 103.40,423.27 104.14,423.17 104.87,423.08 105.61,422.98 106.34,422.89 107.08,422.79 107.81,422.70 108.55,422.61 109.28,422.52 110.02,422.43 110.76,422.34 111.49,422.25 112.23,422.16 112.96,422.08 113.70,421.99 114.43,421.91 115.17,421.82 115.90,421.74 116.64,421.66 117.37,421.58 118.11,421.50 118.85,421.42 119.58,421.34 120.32,421.26 121.05,421.18 121.79,421.11 122.52,421.03 123.26,420.96 123.99,420.88 124.73,420.81 125.46,420.73 126.20,420.66 126.94,420.59 127.67,420.52 128.41,420.45 129.14,420.38 129.88,420.31 130.61,420.24 131.35,420.17 132.08,420.10 132.82,420.04 133.55,419.97 134.29,419.90 135.03,419.84 135.76,419.77 136.50,419.71 137.23,419.65 137.97,419.58 138.70,419.52 139.44,419.46 140.17,419.40 140.91,419.34 141.64,419.28 142.38,419.21 143.12,419.16 143.85,419.10 144.59,419.04 145.32,418.98 146.06,418.92 146.79,418.86 147.53,418.81 148.26,418.75 149.00,418.69 149.73,418.64 150.47,418.58 151.21,418.53 151.94,418.47 152.68,418.42 153.41,418.37 154.15,418.31 154.88,418.26 155.62,418.21 156.35,418.15 157.09,418.10 157.82,418.05 158.56,418.00 159.29,417.95 160.03,417.90 160.77,417.85 161.50,417.80 162.24,417.75 162.97,417.70 163.71,417.65 164.44,417.61 165.18,417.56 165.91,417.51 166.65,417.46 167.38,417.42 168.12,417.37 168.86,417.32 169.59,417.28 170.33,417.23 171.06,417.19 171.80,417.14 172.53,417.10 173.27,417.05 174.00,417.01 174.74,416.96 175.47,416.92 176.21,416.88 176.95,416.83 177.68,416.79 178.42,416.75 179.15,416.71 179.89,416.66 180.62,416.62 181.36,416.58 182.09,416.54 182.83,416.50 183.56,416.46 184.30,416.42 185.04,416.38 185.77,416.34 186.51,416.30 187.24,416.26 187.98,416.22 188.71,416.18 189.45,416.14 190.18,416.10 190.92,416.06 191.65,416.03 192.39,415.99 193.13,415.95 193.86,415.91 194.60,415.88 195.33,415.84 196.07,415.80 196.80,415.77 197.54,415.73 198.27,415.69 199.01,415.66 199.74,415.62 200.48,415.59 201.22,415.55 201.95,415.52 202.69,415.48 203.42,415.45 204.16,415.41 204.89,415.38 205.63,415.34 206.36,415.31 207.10,415.28 207.83,415.24 208.57,415.21 209.31,415.17 210.04,415.14 210.78,415.11 211.51,415.08 212.25,415.04 212.98,415.01 213.72,414.98 214.45,414.95 215.19,414.92 215.92,414.88 216.66,414.85 217.40,414.82 218.13,414.79 218.87,414.76 219.60,414.73 220.34,414.70 221.07,414.67 221.81,414.64 222.54,414.61 223.28,414.58 224.01,414.55 224.75,414.52 225.49,414.49 226.22,414.46 226.96,414.43 227.69,414.40 228.43,414.37 229.16,414.34 229.90,414.31 230.63,414.28 231.37,414.25 232.10,414.23 232.84,414.20 233.58,414.17 234.31,414.14 235.05,414.11 235.78,414.09 236.52,414.06 237.25,414.03 237.99,414.00 238.72,413.98 239.46,413.95 240.19,413.92 240.93,413.90 241.67,413.87 242.40,413.84 243.14,413.82 243.87,413.79 244.61,413.76 245.34,413.74 246.08,413.71 246.81,413.69 247.55,413.66 248.28,413.63 249.02,413.61 249.76,413.58 250.49,413.56 251.23,413.53 251.96,413.51 252.70,413.48 253.43,413.46 254.17,413.43 254.90,413.41 255.64,413.39 256.37,413.36 257.11,413.34 257.85,413.31 258.58,413.29 259.32,413.26 260.05,413.24 260.79,413.22 261.52,413.19 262.26,413.17 262.99,413.15 263.73,413.12 264.46,413.10 265.20,413.08" fill="none" stroke="#ff0000" stroke-width="1.7" stroke-linejoin="round" />
<polyline points="45.30,437.72 46.04,436.86 46.77,436.03 47.51,435.21 48.24,434.42 48.98,433.65 49.71,432.89 50.45,432.15 51.18,431.43 51.92,430.73 52.65,430.04 53.39,429.36 54.13,428.71 54.86,428.06 55.60,427.43 56.33,426.81 57.07,426.21 57.80,425.62 58.54,425.04 59.27,424.47 60.01,423.91 60.74,423.36 61.48,422.83 62.22,422.30 62.95,421.78 63.69,421.28 64.42,420.78 65.16,420.29 65.89,419.81 66.63,419.34 67.36,418.87 68.10,418.42 68.83,417.97 69.57,417.53 70.31,417.10 71.04,416.67 71.78,416.25 72.51,415.84 73.25,415.44 73.98,415.04 74.72,414.65 75.45,414.26 76.19,413.88 76.92,413.51 77.66,413.14 78.40,412.77 79.13,412.41 79.87,412.06 80.60,411.71 81.34,411.37 82.07,411.03 82.81,410.70 83.54,410.37 84.28,410.05 85.01,409.73 85.75,409.41 86.49,409.10 87.22,408.80 87.96,408.49 88.69,408.20 89.43,407.90 90.16,407.61 90.90,407.32 91.63,407.04 92.37,406.76 93.10,406.48 93.84,406.21 94.58,405.94 95.31,405.68 96.05,405.41 96.78,405.15 97.52,404.90 98.25,404.64 98.99,404.39 99.72,404.14 100.46,403.90 101.19,403.66 101.93,403.42 102.67,403.18 103.40,402.95 104.14,402.72 104.87,402.49 105.61,402.26 106.34,402.04 107.08,401.82 107.81,401.60 108.55,401.38 109.28,401.17 110.02,400.95 110.76,400.75 111.49,400.54 112.23,400.33 112.96,400.13 113.70,399.93 114.43,399.73 115.17,399.53 115.90,399.34 116.64,399.14 117.37,398.95 118.11,398.76 118.85,398.58 119.58,398.39 120.32,398.21 121.05,398.02 121.79,397.84 122.52,397.67 123.26,397.49 123.99,397.31 124.73,397.14 125.46,396.97 126.20,396.80 126.94,396.63 127.67,396.46 128.41,396.29 129.14,396.13 129.88,395.97 130.61,395.81 131.35,395.65 132.08,395.49 132.82,395.33 133.55,395.17 134.29,395.02 135.03,394.87 135.76,394.71 136.50,394.56 137.23,394.41 137.97,394.27 138.70,394.12 139.44,393.97 140.17,393.83 140.91,393.69 141.64,393.54 142.38,393.40 143.12,393.26 143.85,393.13 144.59,392.99 145.32,392.85 146.06,392.72 146.79,392.58 147.53,392.45 148.26,392.32 149.00,392.19 149.73,392.06 150.47,391.93 151.21,391.80 151.94,391.67 152.68,391.55 153.41,391.42 154.15,391.30 154.88,391.17 155.62,391.05 156.35,390.93 157.09,390.81 157.82,390.69 158.56,390.57 159.29,390.45 160.03,390.34 160.77,390.22 161.50,390.10 162.24,389.99 162.97,389.88 163.71,389.76 164.44,389.65 165.18,389.54 165.91,389.43 166.65,389.32 167.38,389.21 168.12,389.10 168.86,388.99 169.59,388.89 170.33,388.78 171.06,388.68 171.80,388.57 172.53,388.47 173.27,388.36 174.00,388.26 174.74,388.16 175.47,388.06 176.21,387.96 176.95,387.86 177.68,387.76 178.42,387.66 179.15,387.56 179.89,387.46 180.62,387.37 181.36,387.27 182.09,387.18 182.83,387.08 183.56,386.99 184.30,386.89 185.04,386.80 185.77,386.71 186.51,386.62 187.24,386.52 187.98,386.43 188.71,386.34 189.45,386.25 190.18,386.16 190.92,386.08 191.65,385.99 192.39,385.90 193.13,385.81 193.86,385.73 194.60,385.64 195.33,385.55 196.07,385.47 196.80,385.39 197.54,385.30 198.27,385.22 199.01,385.13 199.74,385.05 200.48,384.97 201.22,384.89 201.95,384.81 202.69,384.73 203.42,384.65 204.16,384.57 204.89,384.49 205.63,384.41 206.36,384.33 207.10,384.25 207.83,384.17 208.57,384.10 209.31,384.02 210.04,383.94 210.78,383.87 211.51,383.79 212.25,383.72 212.98,383.64 213.72,383.57 214.45,383.50 215.19,383.42 215.92,383.35 216.66,383.28 217.40,383.20 218.13,383.13 218.87,383.06 219.60,382.99 220.34,382.92 221.07,382.85 221.81,382.78 222.54,382.71 223.28,382.64 224.01,382.57 224.75,382.50 225.49,382.44 226.22,382.37 226.96,382.30 227.69,382.23 228.43,382.17 229.16,382.10 229.90,382.03 230.63,381.97 231.37,381.90 232.10,381.84 232.84,381.77 233.58,381.71 234.31,381.64 235.05,381.58 235.78,381.52 236.52,381.45 237.25,381.39 237.99,381.33 238.72,381.26 239.46,381.20 240.19,381.14 240.93,381.08 241.67,381.02 242.40,380.96 243.14,380.90 243.87,380.84 244.61,380.78 245.34,380.72 246.08,380.66 246.81,380.60 247.55,380.54 248.28,380.48 249.02,380.42 249.76,380.36 250.49,380.31 251.23,380.25 251.96,380.19 252.70,380.14 253.43,380.08 254.17,380.02 254.90,379.97 255.64,379.91 256.37,379.85 257.11,379.80 257.85,379.74 258.58,379.69 259.32,379.63 260.05,379.58 260.79,379.53 261.52,379.47 262.26,379.42 262.99,379.36 263.73,379.31 264.46,379.26 265.20,379.20" fill="none" stroke="#0000ff" stroke-width="1.7" stroke-linejoin="round" stroke-dasharray="5 4"/>
<polyline points="45.30,438.56 46.04,437.98 46.77,437.41 47.51,436.83 48.24,436.26 48.98,435.69 49.71,435.12 50.45,434.55 51.18,433.98 51.92,433.42 52.65,432.85 53.39,432.29 54.13,431.73 54.86,431.17 55.60,430.61 56.33,430.05 57.07,429.49 57.80,428.94 58.54,428.38 59.27,427.83 60.01,427.28 60.74,426.73 61.48,426.18 62.22,425.64 62.95,425.09 63.69,424.55 64.42,424.00 65.16,423.46 65.89,422.92 66.63,422.38 67.36,421.84 68.10,421.31 68.83,420.77 69.57,420.24 70.31,419.71 71.04,419.18 71.78,418.65 72.51,418.12 73.25,417.59 73.98,417.07 74.72,416.54 75.45,416.02 76.19,415.50 76.92,414.98 77.66,414.46 78.40,413.94 79.13,413.43 79.87,412.91 80.60,412.40 81.34,411.89 82.07,411.38 82.81,410.87 83.54,410.36 84.28,409.85 85.01,409.35 85.75,408.84 86.49,408.34 87.22,407.84 87.96,407.34 88.69,406.84 89.43,406.34 90.16,405.85 90.90,405.35 91.63,404.86 92.37,404.37 93.10,403.88 93.84,403.39 94.58,402.90 95.31,402.42 96.05,401.93 96.78,401.45 97.52,400.97 98.25,400.49 98.99,400.01 99.72,399.53 100.46,399.05 101.19,398.58 101.93,398.10 102.67,397.63 103.40,397.16 104.14,396.69 104.87,396.22 105.61,395.75 106.34,395.28 107.08,394.82 107.81,394.36 108.55,393.89 109.28,393.43 110.02,392.97 110.76,392.52 111.49,392.06 112.23,391.60 112.96,391.15 113.70,390.70 114.43,390.25 115.17,389.80 115.90,389.35 116.64,388.90 117.37,388.46 118.11,388.01 118.85,387.57 119.58,387.13 120.32,386.69 121.05,386.25 121.79,385.81 122.52,385.37 123.26,384.94 123.99,384.50 124.73,384.07 125.46,383.64 126.20,383.21 126.94,382.78 127.67,382.36 128.41,381.93 129.14,381.51 129.88,381.08 130.61,380.66 131.35,380.24 132.08,379.82 132.82,379.41 133.55,378.99 134.29,378.57 135.03,378.16 135.76,377.75 136.50,377.34 137.23,376.93 137.97,376.52 138.70,376.11 139.44,375.71 140.17,375.30 140.91,374.90 141.64,374.50 142.38,374.10 143.12,373.70 143.85,373.30 144.59,372.91 145.32,372.51 146.06,372.12 146.79,371.73 147.53,371.34 148.26,370.95 149.00,370.56 149.73,370.18 150.47,369.79 151.21,369.41 151.94,369.02 152.68,368.64 153.41,368.26 154.15,367.89 154.88,367.51 155.62,367.13 156.35,366.76 157.09,366.39 157.82,366.01 158.56,365.64 159.29,365.27 160.03,364.91 160.77,364.54 161.50,364.18 162.24,363.81 162.97,363.45 163.71,363.09 164.44,362.73 165.18,362.37 165.91,362.01 166.65,361.66 167.38,361.31 168.12,360.95 168.86,360.60 169.59,360.25 170.33,359.90 171.06,359.56 171.80,359.21 172.53,358.86 173.27,358.52 174.00,358.18 174.74,357.84 175.47,357.50 176.21,357.16 176.95,356.83 177.68,356.49 178.42,356.16 179.15,355.82 179.89,355.49 180.62,355.16 181.36,354.83 182.09,354.51 182.83,354.18 183.56,353.86 184.30,353.53 185.04,353.21 185.77,352.89 186.51,352.57 187.24,352.26 187.98,351.94 188.71,351.62 189.45,351.31 190.18,351.00 190.92,350.69 191.65,350.38 192.39,350.07 193.13,349.76 193.86,349.46 194.60,349.15 195.33,348.85 196.07,348.55 196.80,348.25 197.54,347.95 198.27,347.65 199.01,347.36 199.74,347.06 200.48,346.77 201.22,346.48 201.95,346.19 202.69,345.90 203.42,345.61 204.16,345.32 204.89,345.04 205.63,344.75 206.36,344.47 207.10,344.19 207.83,343.91 208.57,343.63 209.31,343.35 210.04,343.08 210.78,342.80 211.51,342.53 212.25,342.26 212.98,341.99 213.72,341.72 214.45,341.45 215.19,341.18 215.92,340.92 216.66,340.66 217.40,340.39 218.13,340.13 218.87,339.87 219.60,339.61 220.34,339.36 221.07,339.10 221.81,338.85 222.54,338.59 223.28,338.34 224.01,338.09 224.75,337.84 225.49,337.60 226.22,337.35 226.96,337.11 227.69,336.86 228.43,336.62 229.16,336.38 229.90,336.14 230.63,335.90 231.37,335.67 232.10,335.43 232.84,335.20 233.58,334.96 234.31,334.73 235.05,334.50 235.78,334.27 236.52,334.05 237.25,333.82 237.99,333.60 238.72,333.37 239.46,333.15 240.19,332.93 240.93,332.71 241.67,332.49 242.40,332.28 243.14,332.06 243.87,331.85 244.61,331.64 245.34,331.42 246.08,331.21 246.81,331.01 247.55,330.80 248.28,330.59 249.02,330.39 249.76,330.19 250.49,329.98 251.23,329.78 251.96,329.59 252.70,329.39 253.43,329.19 254.17,329.00 254.90,328.80 255.64,328.61 256.37,328.42 257.11,328.23 257.85,328.04 258.58,327.86 259.32,327.67 260.05,327.49 260.79,327.30 261.52,327.12 262.26,326.94 262.99,326.76 263.73,326.59 264.46,326.41 265.20,326.24" fill="none" stroke="#0000ff" stroke-width="1.7" stroke-linejoin="round" />
<polyline points="45.30,448.23 46.04,445.70 46.77,443.28 47.51,440.95 48.24,438.72 48.98,436.58 49.71,434.53 50.45,432.56 51.18,430.66 51.92,428.85 52.65,427.10 53.39,425.42 54.13,423.80 54.86,422.25 55.60,420.75 56.33,419.31 57.07,417.92 57.80,416.59 58.54,415.30 59.27,414.06 60.01,412.86 60.74,411.70 61.48,410.59 62.22,409.51 62.95,408.46 63.69,407.45 64.42,406.48 65.16,405.53 65.89,404.62 66.63,403.73 67.36,402.87 68.10,402.04 68.83,401.23 69.57,400.44 70.31,399.68 71.04,398.94 71.78,398.22 72.51,397.51 73.25,396.83 73.98,396.16 74.72,395.51 75.45,394.88 76.19,394.26 76.92,393.65 77.66,393.06 78.40,392.48 79.13,391.91 79.87,391.36 80.60,390.82 81.34,390.29 82.07,389.76 82.81,389.25 83.54,388.75 84.28,388.26 85.01,387.77 85.75,387.29 86.49,386.82 87.22,386.36 87.96,385.91 88.69,385.46 89.43,385.02 90.16,384.58 90.90,384.15 91.63,383.72 92.37,383.31 93.10,382.89 93.84,382.48 94.58,382.07 95.31,381.67 96.05,381.28 96.78,380.88 97.52,380.49 98.25,380.11 98.99,379.73 99.72,379.35 100.46,378.97 101.19,378.60 101.93,378.23 102.67,377.86 103.40,377.49 104.14,377.13 104.87,376.77 105.61,376.41 106.34,376.05 107.08,375.70 107.81,375.35 108.55,375.00 109.28,374.65 110.02,374.30 110.76,373.96 111.49,373.61 112.23,373.27 112.96,372.93 113.70,372.59 114.43,372.25 115.17,371.91 115.90,371.57 116.64,371.24 117.37,370.90 118.11,370.57 118.85,370.24 119.58,369.90 120.32,369.57 121.05,369.24 121.79,368.91 122.52,368.58 123.26,368.26 123.99,367.93 124.73,367.60 125.46,367.28 126.20,366.95 126.94,366.63 127.67,366.30 128.41,365.98 129.14,365.65 129.88,365.33 130.61,365.01 131.35,364.68 132.08,364.36 132.82,364.04 133.55,363.72 134.29,363.40 135.03,363.08 135.76,362.76 136.50,362.44 137.23,362.12 137.97,361.80 138.70,361.48 139.44,361.16 140.17,360.84 140.91,360.52 141.64,360.20 142.38,359.89 143.12,359.57 143.85,359.25 144.59,358.93 145.32,358.61 146.06,358.30 146.79,357.98 147.53,357.66 148.26,357.35 149.00,357.03 149.73,356.71 150.47,356.40 151.21,356.08 151.94,355.76 152.68,355.45 153.41,355.13 154.15,354.81 154.88,354.50 155.62,354.18 156.35,353.87 157.09,353.55 157.82,353.24 158.56,352.92 159.29,352.60 160.03,352.29 160.77,351.97 161.50,351.66 162.24,351.34 162.97,351.03 163.71,350.71 164.44,350.40 165.18,350.08 165.91,349.77 166.65,349.45 167.38,349.14 168.12,348.82 168.86,348.51 169.59,348.19 170.33,347.88 171.06,347.56 171.80,347.25 172.53,346.93 173.27,346.62 174.00,346.30 174.74,345.99 175.47,345.67 176.21,345.36 176.95,345.04 177.68,344.73 178.42,344.41 179.15,344.10 179.89,343.79 180.62,343.47 181.36,343.16 182.09,342.84 182.83,342.53 183.56,342.21 184.30,341.90 185.04,341.58 185.77,341.27 186.51,340.95 187.24,340.64 187.98,340.33 188.71,340.01 189.45,339.70 190.18,339.38 190.92,339.07 191.65,338.75 192.39,338.44 193.13,338.13 193.86,337.81 194.60,337.50 195.33,337.18 196.07,336.87 196.80,336.55 197.54,336.24 198.27,335.92 199.01,335.61 199.74,335.30 200.48,334.98 201.22,334.67 201.95,334.35 202.69,334.04 203.42,333.72 204.16,333.41 204.89,333.10 205.63,332.78 206.36,332.47 207.10,332.15 207.83,331.84 208.57,331.52 209.31,331.21 210.04,330.90 210.78,330.58 211.51,330.27 212.25,329.95 212.98,329.64 213.72,329.32 214.45,329.01 215.19,328.70 215.92,328.38 216.66,328.07 217.40,327.75 218.13,327.44 218.87,327.12 219.60,326.81 220.34,326.50 221.07,326.18 221.81,325.87 222.54,325.55 223.28,325.24 224.01,324.92 224.75,324.61 225.49,324.30 226.22,323.98 226.96,323.67 227.69,323.35 228.43,323.04 229.16,322.72 229.90,322.41 230.63,322.10 231.37,321.78 232.10,321.47 232.84,321.15 233.58,320.84 234.31,320.52 235.05,320.21 235.78,319.90 236.52,319.58 237.25,319.27 237.99,318.95 238.72,318.64 239.46,318.32 240.19,318.01 240.93,317.70 241.67,317.38 242.40,317.07 243.14,316.75 243.87,316.44 244.61,316.12 245.34,315.81 246.08,315.50 246.81,315.18 247.55,314.87 248.28,314.55 249.02,314.24 249.76,313.92 250.49,313.61 251.23,313.30 251.96,312.98 252.70,312.67 253.43,312.35 254.17,312.04 254.90,311.72 255.64,311.41 256.37,311.10 257.11,310.78 257.85,310.47 258.58,310.15 259.32,309.84 260.05,309.52 260.79,309.21 261.52,308.90 262.26,308.58 262.99,308.27 263.73,307.95 264.46,307.64 265.20,307.33" fill="none" stroke="#000000" stroke-width="1.7" stroke-linejoin="round" />
<polyline points="45.30,437.72 46.04,435.44 46.77,433.25 47.51,431.13 48.24,429.09 48.98,427.12 49.71,425.21 50.45,423.36 51.18,421.58 51.92,419.85 52.65,418.18 53.39,416.55 54.13,414.98 54.86,413.46 55.60,411.98 56.33,410.54 57.07,409.15 57.80,407.79 58.54,406.47 59.27,405.19 60.01,403.95 60.74,402.74 61.48,401.56 62.22,400.41 62.95,399.30 63.69,398.21 64.42,397.15 65.16,396.12 65.89,395.11 66.63,394.13 67.36,393.17 68.10,392.23 68.83,391.32 69.57,390.43 70.31,389.56 71.04,388.71 71.78,387.88 72.51,387.07 73.25,386.27 73.98,385.50 74.72,384.74 75.45,384.00 76.19,383.27 76.92,382.56 77.66,381.86 78.40,381.18 79.13,380.52 79.87,379.86 80.60,379.22 81.34,378.60 82.07,377.98 82.81,377.38 83.54,376.79 84.28,376.21 85.01,375.64 85.75,375.09 86.49,374.54 87.22,374.00 87.96,373.48 88.69,372.96 89.43,372.46 90.16,371.96 90.90,371.47 91.63,370.99 92.37,370.52 93.10,370.06 93.84,369.60 94.58,369.15 95.31,368.71 96.05,368.28 96.78,367.86 97.52,367.44 98.25,367.03 98.99,366.63 99.72,366.23 100.46,365.84 101.19,365.46 101.93,365.08 102.67,364.71 103.40,364.34 104.14,363.98 104.87,363.62 105.61,363.28 106.34,362.93 107.08,362.59 107.81,362.26 108.55,361.93 109.28,361.61 110.02,361.29 110.76,360.98 111.49,360.67 112.23,360.36 112.96,360.06 113.70,359.76 114.43,359.47 115.17,359.18 115.90,358.90 116.64,358.62 117.37,358.35 118.11,358.07 118.85,357.81 119.58,357.54 120.32,357.28 121.05,357.02 121.79,356.77 122.52,356.52 123.26,356.27 123.99,356.03 124.73,355.79 125.46,355.55 126.20,355.31 126.94,355.08 127.67,354.85 128.41,354.63 129.14,354.40 129.88,354.18 130.61,353.97 131.35,353.75 132.08,353.54 132.82,353.33 133.55,353.12 134.29,352.92 135.03,352.72 135.76,352.52 136.50,352.32 137.23,352.13 137.97,351.94 138.70,351.75 139.44,351.56 140.17,351.37 140.91,351.19 141.64,351.01 142.38,350.83 143.12,350.65 143.85,350.48 144.59,350.30 145.32,350.13 146.06,349.96 146.79,349.79 147.53,349.63 148.26,349.46 149.00,349.30 149.73,349.14 150.47,348.98 151.21,348.83 151.94,348.67 152.68,348.52 153.41,348.37 154.15,348.22 154.88,348.07 155.62,347.92 156.35,347.77 157.09,347.63 157.82,347.49 158.56,347.35 159.29,347.21 160.03,347.07 160.77,346.93 161.50,346.80 162.24,346.66 162.97,346.53 163.71,346.40 164.44,346.27 165.18,346.14 165.91,346.01 166.65,345.88 167.38,345.76 168.12,345.64 168.86,345.51 169.59,345.39 170.33,345.27 171.06,345.15 171.80,345.03 172.53,344.92 173.27,344.80 174.00,344.69 174.74,344.57 175.47,344.46 176.21,344.35 176.95,344.24 177.68,344.13 178.42,344.02 179.15,343.91 179.89,343.81 180.62,343.70 181.36,343.60 182.09,343.49 182.83,343.39 183.56,343.29 184.30,343.19 185.04,343.09 185.77,342.99 186.51,342.89 187.24,342.79 187.98,342.69 188.71,342.60 189.45,342.50 190.18,342.41 190.92,342.32 191.65,342.22 192.39,342.13 193.13,342.04 193.86,341.95 194.60,341.86 195.33,341.77 196.07,341.68 196.80,341.60 197.54,341.51 198.27,341.42 199.01,341.34 199.74,341.25 200.48,341.17 201.22,341.09 201.95,341.00 202.69,340.92 203.42,340.84 204.16,340.76 204.89,340.68 205.63,340.60 206.36,340.52 207.10,340.44 207.83,340.37 208.57,340.29 209.31,340.21 210.04,340.14 210.78,340.06 211.51,339.99 212.25,339.92 212.98,339.84 213.72,339.77 214.45,339.70 215.19,339.63 215.92,339.55 216.66,339.48 217.40,339.41 218.13,339.34 218.87,339.28 219.60,339.21 220.34,339.14 221.07,339.07 221.81,339.00 222.54,338.94 223.28,338.87 224.01,338.81 224.75,338.74 225.49,338.68 226.22,338.61 226.96,338.55 227.69,338.49 228.43,338.42 229.16,338.36 229.90,338.30 230.63,338.24 231.37,338.18 232.10,338.12 232.84,338.06 233.58,338.00 234.31,337.94 235.05,337.88 235.78,337.82 236.52,337.76 237.25,337.70 237.99,337.65 238.72,337.59 239.46,337.53 240.19,337.48 240.93,337.42 241.67,337.37 242.40,337.31 243.14,337.26 243.87,337.20 244.61,337.15 245.34,337.09 246.08,337.04 246.81,336.99 247.55,336.94 248.28,336.88 249.02,336.83 249.76,336.78 250.49,336.73 251.23,336.68 251.96,336.63 252.70,336.58 253.43,336.53 254.17,336.48 254.90,336.43 255.64,336.38 256.37,336.33 257.11,336.28 257.85,336.24 258.58,336.19 259.32,336.14 260.05,336.09 260.79,336.05 261.52,336.00 262.26,335.95 262.99,335.91 263.73,335.86 264.46,335.82 265.20,335.77" fill="none" stroke="#000000" stroke-width="1.7" stroke-linejoin="round" stroke-dasharray="5 4"/>
<polyline points="45.30,437.72 46.04,433.96 46.77,430.41 47.51,427.06 48.24,423.89 48.98,420.89 49.71,418.05 50.45,415.35 51.18,412.79 51.92,410.36 52.65,408.05 53.39,405.86 54.13,403.77 54.86,401.78 55.60,399.88 56.33,398.07 57.07,396.34 57.80,394.70 58.54,393.12 59.27,391.61 60.01,390.17 60.74,388.80 61.48,387.48 62.22,386.21 62.95,385.00 63.69,383.83 64.42,382.72 65.16,381.65 65.89,380.62 66.63,379.63 67.36,378.68 68.10,377.77 68.83,376.89 69.57,376.04 70.31,375.22 71.04,374.44 71.78,373.68 72.51,372.95 73.25,372.25 73.98,371.57 74.72,370.91 75.45,370.28 76.19,369.67 76.92,369.08 77.66,368.51 78.40,367.95 79.13,367.42 79.87,366.90 80.60,366.40 81.34,365.92 82.07,365.45 82.81,365.00 83.54,364.56 84.28,364.13 85.01,363.72 85.75,363.32 86.49,362.93 87.22,362.55 87.96,362.19 88.69,361.83 89.43,361.49 90.16,361.15 90.90,360.83 91.63,360.51 92.37,360.20 93.10,359.90 93.84,359.61 94.58,359.33 95.31,359.06 96.05,358.79 96.78,358.53 97.52,358.27 98.25,358.03 98.99,357.79 99.72,357.55 100.46,357.33 101.19,357.10 101.93,356.89 102.67,356.68 103.40,356.47 104.14,356.27 104.87,356.08 105.61,355.88 106.34,355.70 107.08,355.52 107.81,355.34 108.55,355.17 109.28,355.00 110.02,354.83 110.76,354.67 111.49,354.51 112.23,354.36 112.96,354.21 113.70,354.06 114.43,353.92 115.17,353.78 115.90,353.64 116.64,353.51 117.37,353.38 118.11,353.25 118.85,353.12 119.58,353.00 120.32,352.88 121.05,352.76 121.79,352.65 122.52,352.54 123.26,352.43 123.99,352.32 124.73,352.21 125.46,352.11 126.20,352.01 126.94,351.91 127.67,351.81 128.41,351.72 129.14,351.62 129.88,351.53 130.61,351.44 131.35,351.35 132.08,351.27 132.82,351.18 133.55,351.10 134.29,351.02 135.03,350.94 135.76,350.86 136.50,350.79 137.23,350.71 137.97,350.64 138.70,350.56 139.44,350.49 140.17,350.42 140.91,350.35 141.64,350.29 142.38,350.22 143.12,350.16 143.85,350.09 144.59,350.03 145.32,349.97 146.06,349.91 146.79,349.85 147.53,349.79 148.26,349.73 149.00,349.68 149.73,349.62 150.47,349.57 151.21,349.51 151.94,349.46 152.68,349.41 153.41,349.36 154.15,349.31 154.88,349.26 155.62,349.21 156.35,349.16 157.09,349.12 157.82,349.07 158.56,349.03 159.29,348.98 160.03,348.94 160.77,348.90 161.50,348.85 162.24,348.81 162.97,348.77 163.71,348.73 164.44,348.69 165.18,348.65 165.91,348.61 166.65,348.58 167.38,348.54 168.12,348.50 168.86,348.47 169.59,348.43 170.33,348.40 171.06,348.36 171.80,348.33 172.53,348.29 173.27,348.26 174.00,348.23 174.74,348.20 175.47,348.16 176.21,348.13 176.95,348.10 177.68,348.07 178.42,348.04 179.15,348.01 179.89,347.98 180.62,347.96 181.36,347.93 182.09,347.90 182.83,347.87 183.56,347.85 184.30,347.82 185.04,347.79 185.77,347.77 186.51,347.74 187.24,347.72 187.98,347.69 188.71,347.67 189.45,347.64 190.18,347.62 190.92,347.60 191.65,347.57 192.39,347.55 193.13,347.53 193.86,347.51 194.60,347.48 195.33,347.46 196.07,347.44 196.80,347.42 197.54,347.40 198.27,347.38 199.01,347.36 199.74,347.34 200.48,347.32 201.22,347.30 201.95,347.28 202.69,347.26 203.42,347.24 204.16,347.22 204.89,347.21 205.63,347.19 206.36,347.17 207.10,347.15 207.83,347.14 208.57,347.12 209.31,347.10 210.04,347.08 210.78,347.07 211.51,347.05 212.25,347.04 212.98,347.02 213.72,347.00 214.45,346.99 215.19,346.97 215.92,346.96 216.66,346.94 217.40,346.93 218.13,346.91 218.87,346.90 219.60,346.89 220.34,346.87 221.07,346.86 221.81,346.84 222.54,346.83 223.28,346.82 224.01,346.80 224.75,346.79 225.49,346.78 226.22,346.76 226.96,346.75 227.69,346.74 228.43,346.73 229.16,346.71 229.90,346.70 230.63,346.69 231.37,346.68 232.10,346.67 232.84,346.65 233.58,346.64 234.31,346.63 235.05,346.62 235.78,346.61 236.52,346.60 237.25,346.59 237.99,346.58 238.72,346.57 239.46,346.56 240.19,346.54 240.93,346.53 241.67,346.52 242.40,346.51 243.14,346.50 243.87,346.49 244.61,346.48 245.34,346.48 246.08,346.47 246.81,346.46 247.55,346.45 248.28,346.44 249.02,346.43 249.76,346.42 250.49,346.41 251.23,346.40 251.96,346.39 252.70,346.38 253.43,346.38 254.17,346.37 254.90,346.36 255.64,346.35 256.37,346.34 257.11,346.33 257.85,346.33 258.58,346.32 259.32,346.31 260.05,346.30 260.79,346.29 261.52,346.29 262.26,346.28 262.99,346.27 263.73,346.26 264.46,346.26 265.20,346.25" fill="none" stroke="#ff0000" stroke-width="1.7" stroke-linejoin="round" stroke-dasharray="5 4"/>
<rect x="45.3" y="306.3" width="219.89999999999998" height="157.7" fill="none" stroke="#6e6e6e" stroke-width="1"/>
<line x1="89.28" y1="464.00" x2="89.28" y2="462.00" stroke="#6e6e6e" stroke-width="0.8" />
<line x1="89.28" y1="306.30" x2="89.28" y2="308.30" stroke="#6e6e6e" stroke-width="0.8" />
<line x1="133.26" y1="464.00" x2="133.26" y2="462.00" stroke="#6e6e6e" stroke-width="0.8" />
<line x1="133.26" y1="306.30" x2="133.26" y2="308.30" stroke="#6e6e6e" stroke-width="0.8" />
<line x1="177.24" y1="464.00" x2="177.24" y2="462.00" stroke="#6e6e6e" stroke-width="0.8" />
<line x1="177.24" y1="306.30" x2="177.24" y2="308.30" stroke="#6e6e6e" stroke-width="0.8" />
<line x1="221.22" y1="464.00" x2="221.22" y2="462.00" stroke="#6e6e6e" stroke-width="0.8" />
<line x1="221.22" y1="306.30" x2="221.22" y2="308.30" stroke="#6e6e6e" stroke-width="0.8" />
<line x1="45.30" y1="411.43" x2="47.30" y2="411.43" stroke="#6e6e6e" stroke-width="0.8" />
<line x1="265.20" y1="411.43" x2="263.20" y2="411.43" stroke="#6e6e6e" stroke-width="0.8" />
<line x1="45.30" y1="358.87" x2="47.30" y2="358.87" stroke="#6e6e6e" stroke-width="0.8" />
<line x1="265.20" y1="358.87" x2="263.20" y2="358.87" stroke="#6e6e6e" stroke-width="0.8" />
<text x="40.0" y="469.4" font-family='"Liberation Sans", sans-serif' font-size="14.6" font-weight="normal" font-style="normal" text-anchor="end" fill="#262626" stroke="#262626" stroke-width="0.25">0</text>
<text x="40.0" y="416.8333333333333" font-family='"Liberation Sans", sans-serif' font-size="14.6" font-weight="normal" font-style="normal" text-anchor="end" fill="#262626" stroke="#262626" stroke-width="0.25">10</text>
<text x="40.0" y="364.26666666666665" font-family='"Liberation Sans", sans-serif' font-size="14.6" font-weight="normal" font-style="normal" text-anchor="end" fill="#262626" stroke="#262626" stroke-width="0.25">20</text>
<text x="40.0" y="311.7" font-family='"Liberation Sans", sans-serif' font-size="14.6" font-weight="normal" font-style="normal" text-anchor="end" fill="#262626" stroke="#262626" stroke-width="0.25">30</text>
<text x="45.3" y="483.6" font-family='"Liberation Sans", sans-serif' font-size="14.6" font-weight="normal" font-style="normal" text-anchor="middle" fill="#262626" stroke="#262626" stroke-width="0.25">1</text>
<text x="89.28" y="483.6" font-family='"Liberation Sans", sans-serif' font-size="14.6" font-weight="normal" font-style="normal" text-anchor="middle" fill="#262626" stroke="#262626" stroke-width="0.25">2</text>
<text x="133.26" y="483.6" font-family='"Liberation Sans", sans-serif' font-size="14.6" font-weight="normal" font-style="normal" text-anchor="middle" fill="#262626" stroke="#262626" stroke-width="0.25">3</text>
<text x="177.24" y="483.6" font-family='"Liberation Sans", sans-serif' font-size="14.6" font-weight="normal" font-style="normal" text-anchor="middle" fill="#262626" stroke="#262626" stroke-width="0.25">4</text>
<text x="221.21999999999997" y="483.6" font-family='"Liberation Sans", sans-serif' font-size="14.6" font-weight="normal" font-style="normal" text-anchor="middle" fill="#262626" stroke="#262626" stroke-width="0.25">5</text>
<text x="265.2" y="483.6" font-family='"Liberation Sans", sans-serif' font-size="14.6" font-weight="normal" font-style="normal" text-anchor="middle" fill="#262626" stroke="#262626" stroke-width="0.25">6</text>
<text x="126.4" y="504.8" font-family='"Liberation Sans", sans-serif' font-size="16.5" font-weight="normal" font-style="normal" text-anchor="start" fill="#262626" textLength="56.8" lengthAdjust="spacingAndGlyphs" stroke="#262626" stroke-width="0.25">Ductility</text>
<text transform="translate(17.9,417) rotate(-90)" font-family='"Liberation Sans", sans-serif' font-size="16.8" fill="#262626" stroke="#262626" stroke-width="0.25" textLength="64.1" lengthAdjust="spacingAndGlyphs">EVD (%)</text>
<rect x="88.1" y="426.5" width="171.1" height="31.9" fill="#fff" stroke="#262626" stroke-width="0.9"/>
<line x1="90.00" y1="432.10" x2="110.90" y2="432.10" stroke="#ff0000" stroke-width="1.7" />
<text x="112.8" y="434.85" font-family='"Liberation Sans", sans-serif' font-size="7.6" font-weight="normal" font-style="normal" text-anchor="start" fill="#000" textLength="58.2" lengthAdjust="spacingAndGlyphs" stroke="#000" stroke-width="0.2">Precast Concrete</text>
<line x1="90.00" y1="442.15" x2="110.90" y2="442.15" stroke="#0000ff" stroke-width="1.7" />
<text x="112.8" y="444.90000000000003" font-family='"Liberation Sans", sans-serif' font-size="7.6" font-weight="normal" font-style="normal" text-anchor="start" fill="#000" textLength="34.6" lengthAdjust="spacingAndGlyphs" stroke="#000" stroke-width="0.2">RC Frame</text>
<line x1="90.00" y1="452.20" x2="110.90" y2="452.20" stroke="#000" stroke-width="1.7" />
<text x="112.8" y="454.95000000000005" font-family='"Liberation Sans", sans-serif' font-size="7.6" font-weight="normal" font-style="normal" text-anchor="start" fill="#000" textLength="34.6" lengthAdjust="spacingAndGlyphs" stroke="#000" stroke-width="0.2">RC Frame</text>
<line x1="176.40" y1="432.10" x2="197.00" y2="432.10" stroke="#ff0000" stroke-width="1.7" stroke-dasharray="4.5 3"/>
<text x="198.8" y="434.85" font-family='"Liberation Sans", sans-serif' font-size="7.6" font-weight="normal" font-style="normal" text-anchor="start" fill="#000" stroke="#000" stroke-width="0.2">Steel-RC Frame</text>
<line x1="176.40" y1="442.15" x2="197.00" y2="442.15" stroke="#0000ff" stroke-width="1.7" stroke-dasharray="4.5 3"/>
<text x="198.8" y="444.90000000000003" font-family='"Liberation Sans", sans-serif' font-size="7.6" font-weight="normal" font-style="normal" text-anchor="start" fill="#000" stroke="#000" stroke-width="0.2">Hybrid Timber</text>
<line x1="176.40" y1="452.20" x2="197.00" y2="452.20" stroke="#000" stroke-width="1.7" stroke-dasharray="4.5 3"/>
<text x="198.8" y="454.95000000000005" font-family='"Liberation Sans", sans-serif' font-size="7.6" font-weight="normal" font-style="normal" text-anchor="start" fill="#000" stroke="#000" stroke-width="0.2">Steel-CLT Hybrid</text>
<line x1="380.32" y1="308.40" x2="380.32" y2="464.20" stroke="#e3e3e3" stroke-width="0.8" />
<line x1="422.24" y1="308.40" x2="422.24" y2="464.20" stroke="#e3e3e3" stroke-width="0.8" />
<line x1="464.16" y1="308.40" x2="464.16" y2="464.20" stroke="#e3e3e3" stroke-width="0.8" />
<line x1="506.08" y1="308.40" x2="506.08" y2="464.20" stroke="#e3e3e3" stroke-width="0.8" />
<line x1="338.40" y1="412.27" x2="548.00" y2="412.27" stroke="#e3e3e3" stroke-width="0.8" />
<line x1="338.40" y1="360.33" x2="548.00" y2="360.33" stroke="#e3e3e3" stroke-width="0.8" />
<polyline points="338.40,464.20 339.11,464.17 339.82,464.07 340.53,463.90 341.24,463.67 341.95,463.38 342.66,463.01 343.37,462.58 344.08,462.09 344.79,461.53 345.51,460.90 346.22,460.21 346.93,459.45 347.64,458.67 348.35,457.89 349.06,457.12 349.77,456.34 350.48,455.56 351.19,454.78 351.90,454.00 352.61,453.22 353.32,452.44 354.03,451.67 354.74,450.89 355.45,450.11 356.16,449.33 356.87,448.55 357.58,447.77 358.29,446.99 359.00,446.22 359.72,445.44 360.43,444.66 361.14,443.88 361.85,443.10 362.56,442.32 363.27,441.55 363.98,440.77 364.69,439.99 365.40,439.21 366.11,438.43 366.82,437.65 367.53,436.87 368.24,436.10 368.95,435.32 369.66,434.54 370.37,433.76 371.08,432.98 371.79,432.20 372.50,431.42 373.21,430.65 373.93,429.87 374.64,429.09 375.35,428.31 376.06,427.53 376.77,426.75 377.48,425.98 378.19,425.20 378.90,424.42 379.61,423.64 380.32,422.86 380.32,422.86 381.73,422.03 383.14,421.21 384.55,420.38 385.96,419.56 387.37,418.73 388.77,417.90 390.18,417.08 391.59,416.25 393.00,415.42 394.41,414.60 395.82,413.77 397.23,412.95 398.64,412.12 400.05,411.29 401.46,410.47 402.87,409.64 404.27,408.81 405.68,407.99 407.09,407.16 408.50,406.34 409.91,405.51 411.32,404.68 412.73,403.86 414.14,403.03 415.55,402.20 416.96,401.38 418.37,400.55 419.77,399.73 421.18,398.90 422.59,398.07 424.00,397.25 425.41,396.42 426.82,395.59 428.23,394.77 429.64,393.94 431.05,393.12 432.46,392.29 433.86,391.46 435.27,390.64 436.68,389.81 438.09,388.98 439.50,388.16 440.91,387.33 442.32,386.50 443.73,385.80 445.14,385.29 446.55,384.78 447.96,384.27 449.36,383.76 450.77,383.25 452.18,382.74 453.59,382.23 455.00,381.72 456.41,381.21 457.82,380.70 459.23,380.19 460.64,379.68 462.05,379.17 463.46,378.66 464.86,378.15 466.27,377.64 467.68,377.13 469.09,376.62 470.50,376.11 471.91,375.60 473.32,375.09 474.73,374.58 476.14,374.07 477.55,373.56 478.96,373.05 480.36,372.54 481.77,372.03 483.18,371.52 484.59,371.02 486.00,370.51 487.41,370.00 488.82,369.49 490.23,368.98 491.64,368.47 493.05,367.96 494.46,367.45 495.86,366.94 497.27,366.43 498.68,365.92 500.09,365.41 501.50,364.90 502.91,364.39 504.32,363.88 505.73,363.37 507.14,362.86 508.55,362.35 509.95,361.84 511.36,361.33 512.77,360.82 514.18,360.31 515.59,359.80 517.00,359.29 518.41,358.78 519.82,358.27 521.23,357.76 522.64,357.25 524.05,356.74 525.45,356.23 526.86,355.72 528.27,355.21 529.68,354.70 531.09,354.19 532.50,353.68 533.91,353.17 535.32,352.66 536.73,352.15 538.14,351.65 539.55,351.14 540.95,350.63 542.36,350.12 543.77,349.61 545.18,349.10 546.59,348.59 548.00,348.08" fill="none" stroke="#0000ff" stroke-width="1.7" stroke-linejoin="round" />
<polyline points="338.40,464.20 339.11,464.16 339.82,464.03 340.53,463.82 341.24,463.52 341.95,463.14 342.66,462.67 343.37,462.12 344.08,461.48 344.79,460.76 345.51,459.95 346.22,459.06 346.93,458.08 347.64,457.08 348.35,456.07 349.06,455.07 349.77,454.07 350.48,453.06 351.19,452.06 351.90,451.05 352.61,450.05 353.32,449.05 354.03,448.04 354.74,447.04 355.45,446.04 356.16,445.03 356.87,444.03 357.58,443.03 358.29,442.02 359.00,441.02 359.72,440.02 360.43,439.01 361.14,438.01 361.85,437.01 362.56,436.00 363.27,435.00 363.98,434.00 364.69,432.99 365.40,431.99 366.11,430.99 366.82,429.98 367.53,428.98 368.24,427.98 368.95,426.97 369.66,425.97 370.37,424.96 371.08,423.96 371.79,422.96 372.50,421.95 373.21,420.95 373.93,419.95 374.64,418.94 375.35,417.94 376.06,416.94 376.77,415.93 377.48,414.93 378.19,413.93 378.90,412.92 379.61,411.92 380.32,410.92 380.32,410.92 381.73,409.86 383.14,408.81 384.55,407.76 385.96,406.71 387.37,405.66 388.77,404.60 390.18,403.55 391.59,402.50 393.00,401.45 394.41,400.40 395.82,399.34 397.23,398.29 398.64,397.24 400.05,396.19 401.46,395.14 402.87,394.08 404.27,393.03 405.68,391.98 407.09,390.93 408.50,389.88 409.91,388.82 411.32,387.77 412.73,386.72 414.14,385.67 415.55,384.62 416.96,383.56 418.37,382.51 419.77,381.46 421.18,380.41 422.59,379.35 424.00,378.30 425.41,377.25 426.82,376.20 428.23,375.15 429.64,374.09 431.05,373.04 432.46,371.99 433.86,370.94 435.27,369.89 436.68,368.83 438.09,367.78 439.50,366.73 440.91,365.68 442.32,364.63 443.73,363.72 445.14,363.06 446.55,362.40 447.96,361.74 449.36,361.08 450.77,360.42 452.18,359.76 453.59,359.10 455.00,358.44 456.41,357.78 457.82,357.12 459.23,356.45 460.64,355.79 462.05,355.13 463.46,354.47 464.86,353.81 466.27,353.15 467.68,352.49 469.09,351.83 470.50,351.17 471.91,350.51 473.32,349.85 474.73,349.19 476.14,348.53 477.55,347.87 478.96,347.21 480.36,346.55 481.77,345.89 483.18,345.23 484.59,344.56 486.00,343.90 487.41,343.24 488.82,342.58 490.23,341.92 491.64,341.26 493.05,340.60 494.46,339.94 495.86,339.28 497.27,338.62 498.68,337.96 500.09,337.30 501.50,336.64 502.91,335.98 504.32,335.32 505.73,334.66 507.14,334.00 508.55,333.34 509.95,332.67 511.36,332.01 512.77,331.35 514.18,330.69 515.59,330.03 517.00,329.37 518.41,328.71 519.82,328.05 521.23,327.39 522.64,326.73 524.05,326.07 525.45,325.41 526.86,324.75 528.27,324.09 529.68,323.43 531.09,322.77 532.50,322.11 533.91,321.45 535.32,320.78 536.73,320.12 538.14,319.46 539.55,318.80 540.95,318.14 542.36,317.48 543.77,316.82 545.18,316.16 546.59,315.50 548.00,314.84" fill="none" stroke="#ff0000" stroke-width="1.7" stroke-linejoin="round" />
<rect x="338.4" y="308.4" width="209.60000000000002" height="155.8" fill="none" stroke="#6e6e6e" stroke-width="1"/>
<line x1="380.32" y1="464.20" x2="380.32" y2="462.20" stroke="#6e6e6e" stroke-width="0.8" />
<line x1="380.32" y1="308.40" x2="380.32" y2="310.40" stroke="#6e6e6e" stroke-width="0.8" />
<line x1="422.24" y1="464.20" x2="422.24" y2="462.20" stroke="#6e6e6e" stroke-width="0.8" />
<line x1="422.24" y1="308.40" x2="422.24" y2="310.40" stroke="#6e6e6e" stroke-width="0.8" />
<line x1="464.16" y1="464.20" x2="464.16" y2="462.20" stroke="#6e6e6e" stroke-width="0.8" />
<line x1="464.16" y1="308.40" x2="464.16" y2="310.40" stroke="#6e6e6e" stroke-width="0.8" />
<line x1="506.08" y1="464.20" x2="506.08" y2="462.20" stroke="#6e6e6e" stroke-width="0.8" />
<line x1="506.08" y1="308.40" x2="506.08" y2="310.40" stroke="#6e6e6e" stroke-width="0.8" />
<line x1="338.40" y1="412.27" x2="340.40" y2="412.27" stroke="#6e6e6e" stroke-width="0.8" />
<line x1="548.00" y1="412.27" x2="546.00" y2="412.27" stroke="#6e6e6e" stroke-width="0.8" />
<line x1="338.40" y1="360.33" x2="340.40" y2="360.33" stroke="#6e6e6e" stroke-width="0.8" />
<line x1="548.00" y1="360.33" x2="546.00" y2="360.33" stroke="#6e6e6e" stroke-width="0.8" />
<text x="332.8" y="469.59999999999997" font-family='"Liberation Sans", sans-serif' font-size="14.4" font-weight="normal" font-style="normal" text-anchor="end" fill="#262626" stroke="#262626" stroke-width="0.25">0</text>
<text x="332.8" y="417.66666666666663" font-family='"Liberation Sans", sans-serif' font-size="14.4" font-weight="normal" font-style="normal" text-anchor="end" fill="#262626" stroke="#262626" stroke-width="0.25">50</text>
<text x="332.8" y="365.7333333333333" font-family='"Liberation Sans", sans-serif' font-size="14.4" font-weight="normal" font-style="normal" text-anchor="end" fill="#262626" stroke="#262626" stroke-width="0.25">100</text>
<text x="332.8" y="313.79999999999995" font-family='"Liberation Sans", sans-serif' font-size="14.4" font-weight="normal" font-style="normal" text-anchor="end" fill="#262626" stroke="#262626" stroke-width="0.25">150</text>
<text x="338.4" y="484.0" font-family='"Liberation Sans", sans-serif' font-size="14.6" font-weight="normal" font-style="normal" text-anchor="middle" fill="#262626" stroke="#262626" stroke-width="0.25">0</text>
<text x="380.32" y="484.0" font-family='"Liberation Sans", sans-serif' font-size="14.6" font-weight="normal" font-style="normal" text-anchor="middle" fill="#262626" stroke="#262626" stroke-width="0.25">2</text>
<text x="422.24" y="484.0" font-family='"Liberation Sans", sans-serif' font-size="14.6" font-weight="normal" font-style="normal" text-anchor="middle" fill="#262626" stroke="#262626" stroke-width="0.25">4</text>
<text x="464.15999999999997" y="484.0" font-family='"Liberation Sans", sans-serif' font-size="14.6" font-weight="normal" font-style="normal" text-anchor="middle" fill="#262626" stroke="#262626" stroke-width="0.25">6</text>
<text x="506.08" y="484.0" font-family='"Liberation Sans", sans-serif' font-size="14.6" font-weight="normal" font-style="normal" text-anchor="middle" fill="#262626" stroke="#262626" stroke-width="0.25">8</text>
<text x="548.0" y="484.0" font-family='"Liberation Sans", sans-serif' font-size="14.6" font-weight="normal" font-style="normal" text-anchor="middle" fill="#262626" stroke="#262626" stroke-width="0.25">10</text>
<text x="408.0" y="504.6" font-family='"Liberation Sans", sans-serif' font-size="16.3" font-weight="normal" font-style="normal" text-anchor="start" fill="#262626" textLength="70.1" lengthAdjust="spacingAndGlyphs" stroke="#262626" stroke-width="0.25">Period (s)</text>
<text transform="translate(302.6,456.6) rotate(-90)" font-family='"Liberation Sans", sans-serif' font-size="16.5" fill="#262626" stroke="#262626" stroke-width="0.25" textLength="140.8" lengthAdjust="spacingAndGlyphs">Displacement (mm)</text>
<rect x="427.4" y="437.8" width="114.5" height="21.2" fill="#fff" stroke="#262626" stroke-width="0.9"/>
<line x1="429.50" y1="443.00" x2="449.90" y2="443.00" stroke="#ff0000" stroke-width="1.7" />
<text x="451.9" y="445.8" font-family='"Liberation Sans", sans-serif' font-size="7.6" font-weight="normal" font-style="normal" text-anchor="start" fill="#000" textLength="57.1" lengthAdjust="spacingAndGlyphs" stroke="#000" stroke-width="0.2">Design Spectrum</text>
<line x1="429.50" y1="452.70" x2="449.90" y2="452.70" stroke="#0000ff" stroke-width="1.7" />
<text x="451.9" y="455.5" font-family='"Liberation Sans", sans-serif' font-size="7.6" font-weight="normal" font-style="normal" text-anchor="start" fill="#000" textLength="88.1" lengthAdjust="spacingAndGlyphs" stroke="#000" stroke-width="0.2">Damped Design Spectrum</text>
<text x="359.6" y="343.6" font-family='"Liberation Serif", serif' font-size="15.5" font-weight="bold" font-style="italic" text-anchor="start" fill="#000" >&#951;</text>
<text x="372.3" y="343.6" font-family='"Liberation Serif", serif' font-size="15" font-weight="bold" font-style="normal" text-anchor="start" fill="#000" textLength="9.2" lengthAdjust="spacingAndGlyphs" >=</text>
<polyline points="386.6,354.5 388.4,353.2 391,362.2 395.3,316.3 445.8,316.3" fill="none" stroke="#000" stroke-width="1.3"/>
<line x1="397.20" y1="340.00" x2="445.70" y2="340.00" stroke="#000" stroke-width="1.4" />
<text x="414.1" y="333.5" font-family='"Liberation Serif", serif' font-size="14.8" font-weight="bold" font-style="normal" text-anchor="start" fill="#000" textLength="14.6" lengthAdjust="spacingAndGlyphs" >10</text>
<text x="397.8" y="353.6" font-family='"Liberation Serif", serif' font-size="14.8" font-weight="bold" font-style="normal" text-anchor="start" fill="#000" >5</text>
<text x="409.3" y="353.6" font-family='"Liberation Serif", serif' font-size="14.8" font-weight="bold" font-style="normal" text-anchor="start" fill="#000" textLength="8.8" lengthAdjust="spacingAndGlyphs" >+</text>
<text x="422.0" y="353.6" font-family='"Liberation Serif", serif' font-size="14.8" font-weight="bold" font-style="italic" text-anchor="start" fill="#000" >&#958;</text>
<text x="429.6" y="353.6" font-family='"Liberation Serif", serif' font-size="14.8" font-weight="bold" font-style="italic" text-anchor="start" fill="#000" >e</text>
<text x="436.0" y="353.6" font-family='"Liberation Serif", serif' font-size="14.8" font-weight="bold" font-style="italic" text-anchor="start" fill="#000" >q</text>
<line x1="587.90" y1="305.70" x2="632.90" y2="305.70" stroke="#000" stroke-width="1.2" />
<polygon points="638.9,305.7 631.9,302.9 631.9,308.5" fill="#000"/>
<line x1="600.70" y1="336.60" x2="632.90" y2="336.60" stroke="#000" stroke-width="1.2" />
<polygon points="638.9,336.6 631.9,333.8 631.9,339.40000000000003" fill="#000"/>
<line x1="610.70" y1="367.20" x2="632.90" y2="367.20" stroke="#000" stroke-width="1.2" />
<polygon points="638.9,367.2 631.9,364.4 631.9,370.0" fill="#000"/>
<line x1="619.40" y1="396.80" x2="632.90" y2="396.80" stroke="#000" stroke-width="1.2" />
<polygon points="638.9,396.8 631.9,394.0 631.9,399.6" fill="#000"/>
<line x1="624.80" y1="430.40" x2="632.90" y2="430.40" stroke="#000" stroke-width="1.2" />
<polygon points="638.9,430.4 631.9,427.59999999999997 631.9,433.2" fill="#000"/>
<polygon points="635.0,463.9 628.0,461.09999999999997 628.0,466.7" fill="#000"/>
<text x="569.8" y="311.7" font-family='"Liberation Serif", serif' font-size="16.4" font-style="italic" font-weight="normal" stroke="#000" stroke-width="0.25">F</text>
<text x="577.9" y="314.6" font-family='"Liberation Serif", serif' font-size="11.5" font-style="italic" font-weight="normal" stroke="#000" stroke-width="0.25">i</text>
<line x1="646.00" y1="503.50" x2="755.00" y2="503.50" stroke="#000" stroke-width="1.6" />
<polygon points="640.3,503.5 648.5,499.9 648.5,507.1" fill="#000"/>
<text x="665.6" y="521.4" font-family='"Liberation Serif", serif' font-size="16.2" font-style="italic" font-weight="normal" stroke="#000" stroke-width="0.25">V</text>
<text x="675.0" y="524.6" font-family='"Liberation Serif", serif' font-size="11.5" font-style="italic" font-weight="normal" stroke="#000" stroke-width="0.25">b</text>
<text x="686.6" y="521.4" font-family='"Liberation Serif", serif' font-size="16.2" font-style="normal" font-weight="normal" stroke="#000" stroke-width="0.25" textLength="9.8" lengthAdjust="spacingAndGlyphs">=</text>
<text x="703.0" y="521.4" font-family='"Liberation Serif", serif' font-size="16.2" font-style="italic" font-weight="normal" stroke="#000" stroke-width="0.25">K</text>
<text x="712.2" y="524.6" font-family='"Liberation Serif", serif' font-size="11.5" font-style="italic" font-weight="normal" stroke="#000" stroke-width="0.25">e</text>
<text x="719.6" y="521.4" font-family='"Liberation Serif", serif' font-size="16.2" font-style="normal" font-weight="normal" stroke="#000" stroke-width="0.25">&#916;</text>
<text x="729.6" y="524.6" font-family='"Liberation Serif", serif' font-size="11.5" font-style="italic" font-weight="normal" stroke="#000" stroke-width="0.25">d</text>
<g transform="translate(593.7,482.4) rotate(-90)">
<text x="1.0" y="0" font-family='"Liberation Serif", serif' font-size="16" font-style="italic" font-weight="normal" stroke="#000" stroke-width="0.25">F</text>
<text x="8.6" y="3.6" font-family='"Liberation Serif", serif' font-size="11.5" font-style="italic" font-weight="normal" stroke="#000" stroke-width="0.25">i</text>
<text x="19.6" y="0" font-family='"Liberation Serif", serif' font-size="16" font-style="normal" font-weight="normal" stroke="#000" stroke-width="0.25" textLength="9.9" lengthAdjust="spacingAndGlyphs">=</text>
<text x="35.2" y="0" font-family='"Liberation Serif", serif' font-size="16" font-style="italic" font-weight="normal" stroke="#000" stroke-width="0.25">V</text>
<text x="43.3" y="3.8" font-family='"Liberation Serif", serif' font-size="11.5" font-style="italic" font-weight="normal" stroke="#000" stroke-width="0.25">b</text>
<line x1="51.2" y1="-5.1" x2="131" y2="-5.1" stroke="#000" stroke-width="1.1"/>
<text x="76.0" y="-12.0" font-family='"Liberation Serif", serif' font-size="16" font-style="italic" font-weight="normal" stroke="#000" stroke-width="0.25">m</text>
<text x="87.9" y="-8.4" font-family='"Liberation Serif", serif' font-size="11.5" font-style="italic" font-weight="normal" stroke="#000" stroke-width="0.25">i</text>
<text x="92.0" y="-12.0" font-family='"Liberation Serif", serif' font-size="16" font-style="normal" font-weight="normal" stroke="#000" stroke-width="0.25">&#916;</text>
<text x="103.4" y="-8.4" font-family='"Liberation Serif", serif' font-size="11.5" font-style="italic" font-weight="normal" stroke="#000" stroke-width="0.25">i</text>
<text x="51.0" y="12.6" font-family='"Liberation Serif", serif' font-size="14.5" font-style="normal" font-weight="normal" stroke="#000" stroke-width="0.25">&#931;</text>
<text x="63.0" y="16.4" font-family='"Liberation Serif", serif' font-size="11.5" font-style="italic" font-weight="normal" stroke="#000" stroke-width="0.25" textLength="20" lengthAdjust="spacingAndGlyphs">i=1</text>
<text x="65.6" y="1.2" font-family='"Liberation Serif", serif' font-size="11" font-style="italic" font-weight="normal" stroke="#000" stroke-width="0.25">n</text>
<text x="85.0" y="12.5" font-family='"Liberation Serif", serif' font-size="17.5" font-style="normal" font-weight="normal" stroke="#000" stroke-width="0.25">(</text>
<text x="91.6" y="12.5" font-family='"Liberation Serif", serif' font-size="17" font-style="italic" font-weight="normal" stroke="#000" stroke-width="0.25">m</text>
<text x="104.9" y="15.8" font-family='"Liberation Serif", serif' font-size="11.5" font-style="italic" font-weight="normal" stroke="#000" stroke-width="0.25">i</text>
<text x="108.4" y="12.5" font-family='"Liberation Serif", serif' font-size="16" font-style="normal" font-weight="normal" stroke="#000" stroke-width="0.25">&#916;</text>
<text x="119.3" y="15.8" font-family='"Liberation Serif", serif' font-size="11.5" font-style="italic" font-weight="normal" stroke="#000" stroke-width="0.25">i</text>
<text x="122.8" y="12.5" font-family='"Liberation Serif", serif' font-size="17.5" font-style="normal" font-weight="normal" stroke="#000" stroke-width="0.25">)</text>
</g>
</svg>
</body></html>
